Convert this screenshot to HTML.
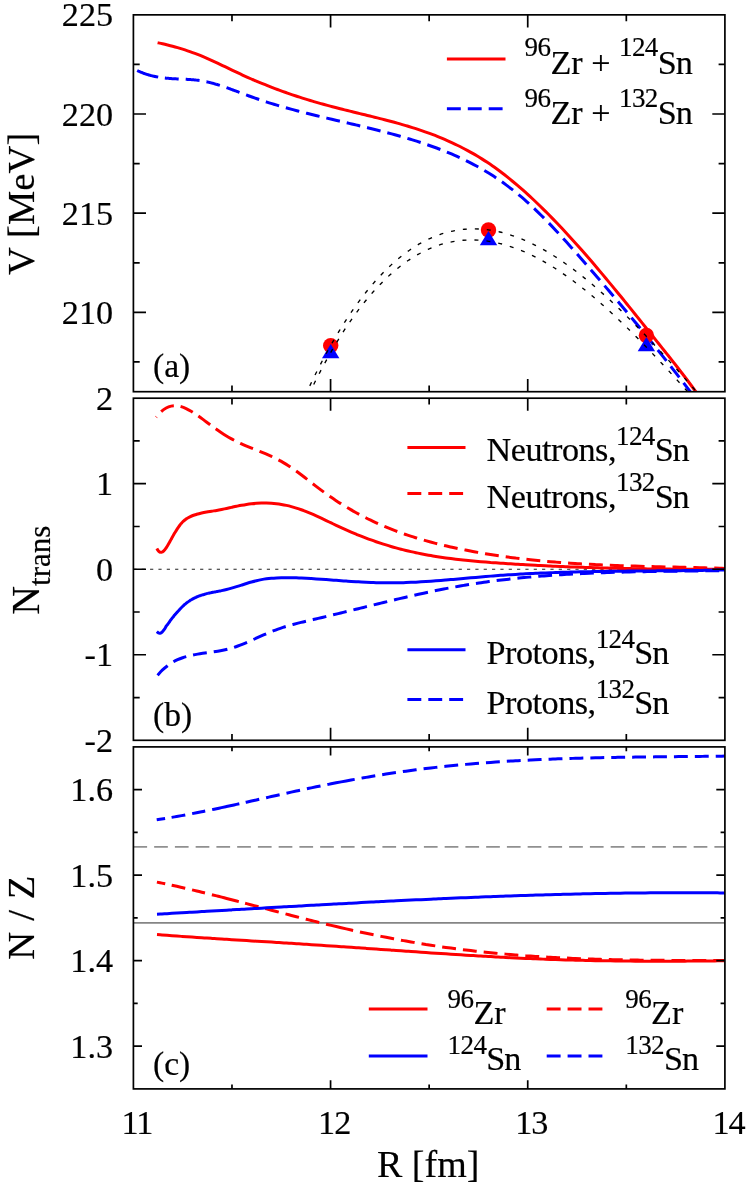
<!DOCTYPE html>
<html><head><meta charset="utf-8"><title>figure</title>
<style>
html,body{margin:0;padding:0;background:#fff;}
svg{display:block;}
text{font-family:"Liberation Serif",serif;fill:#000;stroke:#000;stroke-width:0.18;}
svg{will-change:transform;}
.t{font-size:34.2px;}
.s{font-size:27px;letter-spacing:-0.6px;}
.sn{letter-spacing:-1.1px;}
.w{letter-spacing:-0.5px;}
.l{font-size:38px;}
.ls{font-size:30.4px;}
.c{fill:none;stroke-width:3;stroke-linecap:butt;stroke-linejoin:round;}
.r{stroke:#ff0000;}.b{stroke:#0000ff;}
.d{stroke-dasharray:13.9 7;}
.fr{fill:none;stroke:#000;stroke-width:1.7;}
.tk{stroke:#000;stroke-width:1.7;fill:none;}
.dot{fill:none;stroke:#000;stroke-width:1.35;stroke-dasharray:4 8;}
</style></head><body>
<svg width="747" height="1185" viewBox="0 0 747 1185">
<rect x="0" y="0" width="747" height="1185" fill="#fff"/>
<defs>
<clipPath id="ca"><rect x="133.40" y="14.85" width="591.50" height="376.85"/></clipPath>
<clipPath id="cb"><rect x="133.40" y="398.20" width="591.50" height="342.10"/></clipPath>
<clipPath id="cc"><rect x="133.40" y="746.90" width="591.50" height="342.00"/></clipPath>
</defs>
<g clip-path="url(#ca)">
<path class="c r" d="M157.60 42.74 C158.43 42.92 160.93 43.45 162.59 43.83 C164.26 44.20 165.92 44.60 167.59 45.01 C169.25 45.42 170.92 45.84 172.58 46.29 C174.25 46.73 175.91 47.19 177.58 47.68 C179.24 48.16 180.91 48.66 182.57 49.18 C184.24 49.70 185.90 50.24 187.57 50.80 C189.23 51.36 190.90 51.95 192.56 52.55 C194.23 53.15 195.89 53.78 197.56 54.43 C199.22 55.08 200.89 55.75 202.55 56.45 C204.22 57.14 205.88 57.86 207.54 58.59 C209.21 59.32 210.87 60.07 212.54 60.83 C214.20 61.59 215.87 62.37 217.53 63.15 C219.20 63.93 220.86 64.73 222.53 65.52 C224.19 66.32 225.86 67.12 227.52 67.92 C229.19 68.72 230.85 69.52 232.52 70.32 C234.18 71.12 235.85 71.92 237.51 72.70 C239.18 73.49 240.84 74.27 242.51 75.03 C244.17 75.80 245.84 76.56 247.50 77.30 C249.17 78.04 250.83 78.78 252.50 79.50 C254.16 80.22 255.83 80.93 257.49 81.63 C259.15 82.33 260.82 83.02 262.48 83.69 C264.15 84.37 265.81 85.04 267.48 85.69 C269.14 86.35 270.81 87.00 272.47 87.63 C274.14 88.27 275.80 88.89 277.47 89.51 C279.13 90.13 280.80 90.73 282.46 91.33 C284.13 91.93 285.79 92.52 287.46 93.10 C289.12 93.67 290.79 94.24 292.45 94.80 C294.12 95.37 295.78 95.92 297.45 96.46 C299.11 97.00 300.78 97.54 302.44 98.07 C304.11 98.59 305.77 99.11 307.43 99.62 C309.10 100.13 310.76 100.63 312.43 101.13 C314.09 101.63 315.76 102.11 317.42 102.59 C319.09 103.07 320.75 103.55 322.42 104.01 C324.08 104.48 325.75 104.94 327.41 105.39 C329.08 105.84 330.74 106.28 332.41 106.72 C334.07 107.16 335.74 107.59 337.40 108.02 C339.07 108.45 340.73 108.87 342.40 109.29 C344.06 109.71 345.73 110.13 347.39 110.54 C349.06 110.95 350.72 111.36 352.39 111.77 C354.05 112.18 355.71 112.58 357.38 112.99 C359.04 113.40 360.71 113.80 362.37 114.21 C364.04 114.61 365.70 115.02 367.37 115.42 C369.03 115.83 370.70 116.24 372.36 116.65 C374.03 117.06 375.69 117.48 377.36 117.90 C379.02 118.31 380.69 118.74 382.35 119.16 C384.02 119.59 385.68 120.02 387.35 120.46 C389.01 120.89 390.68 121.34 392.34 121.79 C394.01 122.24 395.67 122.69 397.34 123.16 C399.00 123.62 400.67 124.09 402.33 124.58 C404.00 125.06 405.66 125.55 407.32 126.05 C408.99 126.55 410.65 127.06 412.32 127.59 C413.98 128.11 415.65 128.64 417.31 129.19 C418.98 129.74 420.64 130.29 422.31 130.87 C423.97 131.44 425.64 132.02 427.30 132.62 C428.97 133.22 430.63 133.84 432.30 134.47 C433.96 135.10 435.63 135.74 437.29 136.41 C438.96 137.07 440.62 137.75 442.29 138.45 C443.95 139.14 445.62 139.86 447.28 140.59 C448.95 141.32 450.61 142.08 452.28 142.85 C453.94 143.62 455.60 144.41 457.27 145.23 C458.93 146.04 460.60 146.87 462.26 147.73 C463.93 148.59 465.59 149.47 467.26 150.37 C468.92 151.27 470.59 152.19 472.25 153.14 C473.92 154.09 475.58 155.07 477.25 156.07 C478.91 157.06 480.58 158.09 482.24 159.14 C483.91 160.19 485.57 161.27 487.24 162.37 C488.90 163.48 490.57 164.61 492.23 165.77 C493.90 166.93 495.56 168.12 497.23 169.33 C498.89 170.55 500.56 171.79 502.22 173.06 C503.89 174.32 505.55 175.62 507.21 176.94 C508.88 178.26 510.54 179.60 512.21 180.97 C513.87 182.34 515.54 183.73 517.20 185.15 C518.87 186.57 520.53 188.01 522.20 189.47 C523.86 190.93 525.53 192.42 527.19 193.93 C528.86 195.44 530.52 196.97 532.19 198.52 C533.85 200.07 535.52 201.64 537.18 203.24 C538.85 204.83 540.51 206.44 542.18 208.08 C543.84 209.71 545.51 211.36 547.17 213.03 C548.84 214.70 550.50 216.39 552.17 218.10 C553.83 219.81 555.49 221.53 557.16 223.28 C558.82 225.02 560.49 226.78 562.15 228.55 C563.82 230.33 565.48 232.12 567.15 233.93 C568.81 235.74 570.48 237.56 572.14 239.40 C573.81 241.23 575.47 243.08 577.14 244.95 C578.80 246.82 580.47 248.70 582.13 250.59 C583.80 252.48 585.46 254.38 587.13 256.30 C588.79 258.22 590.46 260.15 592.12 262.09 C593.79 264.03 595.45 265.98 597.12 267.94 C598.78 269.91 600.45 271.88 602.11 273.86 C603.77 275.84 605.44 277.84 607.10 279.84 C608.77 281.84 610.43 283.85 612.10 285.86 C613.76 287.88 615.43 289.90 617.09 291.94 C618.76 293.97 620.42 296.01 622.09 298.05 C623.75 300.10 625.42 302.15 627.08 304.20 C628.75 306.26 630.41 308.32 632.08 310.39 C633.74 312.45 635.41 314.52 637.07 316.59 C638.74 318.67 640.40 320.74 642.07 322.82 C643.73 324.90 645.40 326.99 647.06 329.07 C648.73 331.15 650.39 333.24 652.06 335.32 C653.72 337.41 655.38 339.50 657.05 341.58 C658.71 343.67 660.38 345.76 662.04 347.84 C663.71 349.93 665.37 352.02 667.04 354.11 C668.70 356.21 670.37 358.30 672.03 360.41 C673.70 362.52 675.36 364.64 677.03 366.77 C678.69 368.91 680.36 371.05 682.02 373.22 C683.69 375.39 685.35 377.57 687.02 379.78 C688.68 381.99 690.35 384.22 692.01 386.48 C693.68 388.74 695.34 391.03 697.01 393.35 C698.67 395.67 701.17 399.23 702.00 400.41"/>
<path class="c b" stroke-dasharray="22 6.8 13.9 7 13.9 7 13.9 7 13.9 7 13.9 7 13.9 7 13.9 7 13.9 7 13.9 7 13.9 7 13.9 7 13.9 7 13.9 7 13.9 7 13.9 7 13.9 7 13.9 7 13.9 7 13.9 7 13.9 7 13.9 7 13.9 7 13.9 7 13.9 7 13.9 7 13.9 7 13.9 7 13.9 7 13.9 7 13.9 7 13.9 7 13.9 7 13.9 7 13.9 7 13.9 7 13.9 7 13.9 7 13.9 7 13.9 7 13.9 7 13.9 7 13.9 7 13.9 7 13.9 7 13.9 7 13.9 7 13.9 7 13.9 7 13.9 7 13.9 7 13.9 7 13.9 7 13.9 7 13.9 7 13.9 7 13.9 7 13.9 7 13.9 7 13.9 7 13.9 7" d="M137.20 70.51 C137.37 70.59 137.87 70.83 138.20 70.99 C138.53 71.15 138.87 71.30 139.20 71.45 C139.53 71.60 139.87 71.74 140.20 71.89 C140.53 72.03 140.87 72.17 141.20 72.31 C141.53 72.44 142.02 72.64 142.19 72.71 C142.36 72.77 142.03 72.65 142.20 72.71 C142.37 72.78 142.87 72.97 143.20 73.10 C143.53 73.22 143.87 73.35 144.20 73.47 C144.53 73.59 144.87 73.70 145.20 73.82 C145.53 73.93 145.87 74.05 146.20 74.16 C146.53 74.26 147.01 74.42 147.18 74.47 C147.35 74.52 147.03 74.42 147.20 74.48 C147.37 74.53 147.87 74.68 148.20 74.78 C148.53 74.88 148.87 74.98 149.20 75.07 C149.53 75.17 149.87 75.26 150.20 75.35 C150.53 75.44 150.87 75.53 151.20 75.61 C151.53 75.70 152.00 75.81 152.17 75.85 C152.33 75.90 152.03 75.82 152.20 75.86 C152.37 75.90 152.87 76.02 153.20 76.10 C153.53 76.17 153.87 76.25 154.20 76.32 C154.53 76.39 154.87 76.46 155.20 76.53 C155.53 76.60 155.87 76.67 156.20 76.73 C156.53 76.79 156.99 76.88 157.16 76.91 C157.32 76.94 157.03 76.89 157.20 76.92 C157.37 76.95 157.87 77.04 158.20 77.10 C158.53 77.15 158.87 77.21 159.20 77.26 C159.53 77.32 159.87 77.37 160.20 77.42 C160.53 77.47 160.88 77.52 161.20 77.56 C161.52 77.61 161.98 77.67 162.15 77.69 C162.31 77.72 162.02 77.68 162.20 77.70 C162.38 77.72 162.87 77.79 163.20 77.83 C163.53 77.87 163.87 77.91 164.20 77.95 C164.53 77.99 164.87 78.02 165.20 78.06 C165.53 78.10 165.88 78.13 166.20 78.16 C166.52 78.20 166.97 78.24 167.14 78.25 C167.30 78.27 167.02 78.24 167.20 78.26 C167.38 78.28 167.87 78.32 168.20 78.35 C168.53 78.38 168.87 78.41 169.20 78.43 C169.53 78.46 169.87 78.49 170.20 78.51 C170.53 78.54 170.88 78.56 171.20 78.58 C171.52 78.61 171.96 78.63 172.12 78.64 C172.29 78.66 172.02 78.64 172.20 78.65 C172.38 78.66 172.87 78.69 173.20 78.71 C173.53 78.73 173.87 78.75 174.20 78.77 C174.53 78.79 174.87 78.81 175.20 78.82 C175.53 78.84 175.88 78.86 176.20 78.87 C176.52 78.89 176.95 78.91 177.11 78.92 C177.28 78.93 177.02 78.91 177.20 78.92 C177.38 78.93 177.87 78.95 178.20 78.97 C178.53 78.98 178.87 79.00 179.20 79.01 C179.53 79.03 179.87 79.04 180.20 79.06 C180.53 79.07 180.88 79.08 181.20 79.10 C181.52 79.11 181.94 79.13 182.10 79.14 C182.27 79.14 182.02 79.13 182.20 79.14 C182.38 79.15 182.87 79.17 183.20 79.19 C183.53 79.20 183.87 79.22 184.20 79.23 C184.53 79.25 184.87 79.26 185.20 79.28 C185.53 79.29 185.88 79.31 186.20 79.33 C186.52 79.34 186.93 79.37 187.09 79.37 C187.26 79.38 187.02 79.37 187.20 79.38 C187.38 79.39 187.87 79.42 188.20 79.44 C188.53 79.46 188.87 79.48 189.20 79.50 C189.53 79.52 189.87 79.54 190.20 79.56 C190.53 79.59 190.89 79.61 191.20 79.63 C191.51 79.66 191.92 79.69 192.08 79.70 C192.25 79.71 192.01 79.70 192.20 79.71 C192.39 79.73 192.87 79.76 193.20 79.79 C193.53 79.82 193.87 79.85 194.20 79.88 C194.53 79.91 194.87 79.95 195.20 79.98 C195.53 80.01 195.89 80.05 196.20 80.09 C196.51 80.12 196.90 80.17 197.07 80.19 C197.24 80.21 197.01 80.18 197.20 80.20 C197.39 80.22 197.87 80.28 198.20 80.33 C198.53 80.37 198.87 80.41 199.20 80.46 C199.53 80.50 199.87 80.55 200.20 80.60 C200.53 80.65 200.89 80.71 201.20 80.76 C201.51 80.81 201.89 80.87 202.06 80.90 C202.23 80.93 202.01 80.89 202.20 80.92 C202.39 80.96 202.87 81.04 203.20 81.10 C203.53 81.16 203.87 81.22 204.20 81.29 C204.53 81.35 204.87 81.42 205.20 81.49 C205.53 81.55 205.89 81.63 206.20 81.69 C206.51 81.76 206.88 81.84 207.05 81.88 C207.22 81.91 207.01 81.87 207.20 81.91 C207.39 81.95 207.87 82.06 208.20 82.14 C208.53 82.22 208.87 82.29 209.20 82.37 C209.53 82.45 209.87 82.54 210.20 82.62 C210.53 82.70 210.89 82.79 211.20 82.87 C211.51 82.95 211.87 83.05 212.04 83.09 C212.21 83.14 212.01 83.08 212.20 83.13 C212.39 83.19 212.87 83.31 213.20 83.40 C213.53 83.50 213.87 83.59 214.20 83.68 C214.53 83.78 214.87 83.87 215.20 83.97 C215.53 84.06 215.90 84.17 216.20 84.26 C216.50 84.35 216.86 84.46 217.03 84.51 C217.20 84.56 217.00 84.50 217.20 84.56 C217.40 84.62 217.87 84.76 218.20 84.86 C218.53 84.97 218.87 85.07 219.20 85.17 C219.53 85.28 219.87 85.38 220.20 85.49 C220.53 85.60 220.90 85.72 221.20 85.81 C221.50 85.91 221.85 86.03 222.02 86.08 C222.18 86.14 222.00 86.08 222.20 86.14 C222.40 86.21 222.87 86.37 223.20 86.48 C223.53 86.59 223.87 86.70 224.20 86.82 C224.53 86.93 224.87 87.04 225.20 87.16 C225.53 87.27 225.90 87.40 226.20 87.51 C226.50 87.61 226.84 87.73 227.01 87.79 C227.17 87.85 227.00 87.79 227.20 87.86 C227.40 87.93 227.87 88.09 228.20 88.21 C228.53 88.33 228.87 88.45 229.20 88.57 C229.53 88.69 229.87 88.81 230.20 88.93 C230.53 89.05 230.90 89.19 231.20 89.30 C231.50 89.41 231.83 89.53 232.00 89.59 C232.16 89.65 232.00 89.59 232.20 89.66 C232.40 89.74 232.87 89.91 233.20 90.03 C233.53 90.16 233.87 90.28 234.20 90.40 C234.53 90.53 234.87 90.65 235.20 90.78 C235.53 90.90 235.90 91.04 236.20 91.15 C236.50 91.26 236.82 91.38 236.99 91.45 C237.15 91.51 237.00 91.45 237.20 91.53 C237.40 91.60 237.87 91.78 238.20 91.90 C238.53 92.03 238.87 92.15 239.20 92.28 C239.53 92.41 239.87 92.53 240.20 92.66 C240.53 92.78 240.90 92.92 241.20 93.03 C241.50 93.15 241.81 93.26 241.97 93.33 C242.14 93.39 242.00 93.33 242.20 93.41 C242.40 93.49 242.87 93.66 243.20 93.79 C243.53 93.91 243.87 94.04 244.20 94.16 C244.53 94.29 244.87 94.41 245.20 94.54 C245.53 94.66 245.91 94.80 246.20 94.91 C246.49 95.02 246.80 95.13 246.96 95.19 C247.13 95.25 246.99 95.20 247.20 95.28 C247.41 95.35 247.87 95.53 248.20 95.65 C248.53 95.77 248.57 95.79 249.20 96.01 C249.83 96.24 250.66 96.55 251.95 97.01 C253.24 97.47 255.28 98.19 256.94 98.76 C258.61 99.33 260.27 99.89 261.93 100.44 C263.60 100.99 265.26 101.53 266.92 102.06 C268.58 102.60 270.25 103.12 271.91 103.63 C273.57 104.14 275.24 104.65 276.90 105.14 C278.56 105.64 280.23 106.12 281.89 106.60 C283.55 107.08 285.22 107.55 286.88 108.02 C288.54 108.48 290.20 108.94 291.87 109.39 C293.53 109.84 295.19 110.28 296.86 110.72 C298.52 111.16 300.18 111.59 301.85 112.02 C303.51 112.45 305.17 112.87 306.84 113.29 C308.50 113.71 310.16 114.12 311.82 114.53 C313.49 114.94 315.15 115.35 316.81 115.75 C318.48 116.15 320.14 116.55 321.80 116.95 C323.47 117.35 325.13 117.74 326.79 118.13 C328.46 118.52 330.12 118.91 331.78 119.30 C333.45 119.69 335.11 120.08 336.77 120.47 C338.43 120.86 340.10 121.24 341.76 121.63 C343.42 122.01 345.09 122.40 346.75 122.79 C348.41 123.18 350.08 123.56 351.74 123.95 C353.40 124.34 355.07 124.73 356.73 125.12 C358.39 125.52 360.05 125.91 361.72 126.31 C363.38 126.70 365.04 127.10 366.71 127.50 C368.37 127.91 370.03 128.31 371.70 128.72 C373.36 129.13 375.02 129.54 376.69 129.96 C378.35 130.38 380.01 130.80 381.67 131.23 C383.34 131.66 385.00 132.09 386.66 132.53 C388.33 132.96 389.99 133.41 391.65 133.86 C393.32 134.31 394.98 134.76 396.64 135.23 C398.31 135.69 399.97 136.16 401.63 136.64 C403.30 137.12 404.96 137.60 406.62 138.10 C408.28 138.59 409.95 139.09 411.61 139.61 C413.27 140.12 414.94 140.64 416.60 141.17 C418.26 141.70 419.93 142.24 421.59 142.79 C423.25 143.34 424.92 143.90 426.58 144.47 C428.24 145.04 429.90 145.62 431.57 146.21 C433.23 146.81 434.89 147.41 436.56 148.03 C438.22 148.65 439.88 149.28 441.55 149.93 C443.21 150.57 444.87 151.23 446.54 151.91 C448.20 152.59 449.86 153.28 451.52 153.99 C453.19 154.70 454.85 155.42 456.51 156.17 C458.18 156.91 459.84 157.67 461.50 158.45 C463.17 159.23 464.83 160.03 466.49 160.85 C468.16 161.68 469.82 162.52 471.48 163.38 C473.15 164.24 474.81 165.13 476.47 166.03 C478.13 166.94 479.80 167.87 481.46 168.83 C483.12 169.78 484.79 170.76 486.45 171.76 C488.11 172.76 489.78 173.79 491.44 174.85 C493.10 175.90 494.77 176.98 496.43 178.09 C498.09 179.20 499.75 180.34 501.42 181.51 C503.08 182.67 504.74 183.87 506.41 185.09 C508.07 186.32 509.73 187.57 511.40 188.86 C513.06 190.14 514.72 191.46 516.39 192.81 C518.05 194.16 519.71 195.54 521.38 196.96 C523.04 198.38 524.70 199.83 526.36 201.31 C528.03 202.79 529.69 204.30 531.35 205.85 C533.02 207.39 534.68 208.96 536.34 210.56 C538.01 212.16 539.67 213.79 541.33 215.44 C543.00 217.10 544.66 218.77 546.32 220.47 C547.98 222.17 549.65 223.90 551.31 225.64 C552.97 227.38 554.64 229.15 556.30 230.93 C557.96 232.71 559.63 234.51 561.29 236.32 C562.95 238.14 564.62 239.97 566.28 241.81 C567.94 243.65 569.60 245.51 571.27 247.38 C572.93 249.25 574.59 251.13 576.26 253.02 C577.92 254.90 579.58 256.80 581.25 258.70 C582.91 260.61 584.57 262.52 586.24 264.43 C587.90 266.34 589.56 268.26 591.22 270.18 C592.89 272.10 594.55 274.03 596.21 275.96 C597.88 277.89 599.54 279.83 601.20 281.77 C602.87 283.71 604.53 285.65 606.19 287.60 C607.86 289.55 609.52 291.50 611.18 293.46 C612.85 295.42 614.51 297.39 616.17 299.36 C617.83 301.33 619.50 303.31 621.16 305.29 C622.82 307.27 624.49 309.26 626.15 311.26 C627.81 313.25 629.48 315.25 631.14 317.26 C632.80 319.26 634.47 321.28 636.13 323.30 C637.79 325.32 639.45 327.34 641.12 329.38 C642.78 331.41 644.44 333.45 646.11 335.50 C647.77 337.55 649.43 339.60 651.10 341.67 C652.76 343.73 654.42 345.80 656.09 347.88 C657.75 349.95 659.41 352.04 661.08 354.13 C662.74 356.23 664.40 358.33 666.06 360.44 C667.73 362.55 669.39 364.66 671.05 366.79 C672.72 368.92 674.38 371.05 676.04 373.20 C677.71 375.34 679.37 377.49 681.03 379.66 C682.70 381.82 684.36 383.99 686.02 386.17 C687.68 388.35 689.35 390.54 691.01 392.74 C692.67 394.94 695.17 398.26 696.00 399.37"/>
</g>
<circle cx="330.70" cy="345.60" r="7.7" fill="#ff0000"/>
<circle cx="488.50" cy="230.00" r="7.7" fill="#ff0000"/>
<circle cx="646.40" cy="335.45" r="7.7" fill="#ff0000"/>
<path d="M330.70 344.00L322.00 358.30L339.40 358.30Z" fill="#0000ff"/>
<path d="M488.50 231.00L479.80 245.30L497.20 245.30Z" fill="#0000ff"/>
<path d="M646.40 336.90L637.70 351.20L655.10 351.20Z" fill="#0000ff"/>
<g clip-path="url(#ca)">
<path class="dot" d="M304.70 396.73 C305.53 394.95 308.04 389.53 309.70 386.03 C311.37 382.53 313.04 379.10 314.71 375.73 C316.38 372.36 318.04 369.07 319.71 365.83 C321.38 362.60 323.05 359.43 324.72 356.33 C326.38 353.22 328.05 350.18 329.72 347.21 C331.39 344.23 333.05 341.32 334.72 338.47 C336.39 335.62 338.06 332.84 339.73 330.12 C341.39 327.39 343.06 324.73 344.73 322.13 C346.40 319.53 348.07 316.99 349.73 314.52 C351.40 312.04 353.07 309.62 354.74 307.26 C356.41 304.90 358.07 302.61 359.74 300.37 C361.41 298.13 363.08 295.95 364.75 293.82 C366.41 291.70 368.08 289.64 369.75 287.63 C371.42 285.62 373.09 283.67 374.75 281.78 C376.42 279.88 378.09 278.04 379.76 276.26 C381.42 274.48 383.09 272.75 384.76 271.08 C386.43 269.40 388.10 267.79 389.76 266.22 C391.43 264.66 393.10 263.15 394.77 261.69 C396.44 260.23 398.10 258.83 399.77 257.47 C401.44 256.12 403.11 254.82 404.78 253.57 C406.44 252.32 408.11 251.12 409.78 249.97 C411.45 248.82 413.12 247.73 414.78 246.68 C416.45 245.63 418.12 244.63 419.79 243.68 C421.46 242.73 423.12 241.83 424.79 240.97 C426.46 240.12 428.13 239.32 429.79 238.56 C431.46 237.80 433.13 237.08 434.80 236.42 C436.47 235.75 438.13 235.13 439.80 234.56 C441.47 233.98 443.14 233.45 444.81 232.97 C446.47 232.48 448.14 232.04 449.81 231.65 C451.48 231.25 453.15 230.90 454.81 230.59 C456.48 230.27 458.15 230.01 459.82 229.78 C461.49 229.55 463.15 229.37 464.82 229.23 C466.49 229.08 468.16 228.98 469.83 228.92 C471.49 228.86 473.16 228.84 474.83 228.86 C476.50 228.87 478.16 228.93 479.83 229.03 C481.50 229.12 483.17 229.26 484.84 229.43 C486.50 229.60 488.17 229.81 489.84 230.06 C491.51 230.30 493.18 230.58 494.84 230.90 C496.51 231.22 498.18 231.58 499.85 231.97 C501.52 232.36 503.18 232.78 504.85 233.24 C506.52 233.70 508.19 234.20 509.86 234.72 C511.52 235.25 513.19 235.81 514.86 236.41 C516.53 237.00 518.20 237.63 519.86 238.28 C521.53 238.94 523.20 239.63 524.87 240.35 C526.54 241.07 528.20 241.83 529.87 242.61 C531.54 243.39 533.21 244.21 534.87 245.05 C536.54 245.89 538.21 246.76 539.88 247.66 C541.55 248.56 543.21 249.49 544.88 250.45 C546.55 251.40 548.22 252.39 549.89 253.40 C551.55 254.41 553.22 255.45 554.89 256.52 C556.56 257.58 558.23 258.67 559.89 259.79 C561.56 260.91 563.23 262.05 564.90 263.21 C566.57 264.38 568.23 265.57 569.90 266.79 C571.57 268.00 573.24 269.24 574.91 270.50 C576.57 271.77 578.24 273.05 579.91 274.36 C581.58 275.67 583.24 277.00 584.91 278.35 C586.58 279.70 588.25 281.07 589.92 282.46 C591.58 283.85 593.25 285.27 594.92 286.70 C596.59 288.13 598.26 289.59 599.92 291.06 C601.59 292.53 603.26 294.02 604.93 295.53 C606.60 297.04 608.26 298.57 609.93 300.11 C611.60 301.66 613.27 303.22 614.94 304.80 C616.60 306.38 618.27 307.97 619.94 309.58 C621.61 311.19 623.28 312.82 624.94 314.46 C626.61 316.10 628.28 317.76 629.95 319.43 C631.61 321.10 633.28 322.79 634.95 324.49 C636.62 326.18 638.29 327.90 639.95 329.62 C641.62 331.34 643.29 333.08 644.96 334.83 C646.63 336.58 648.29 338.34 649.96 340.11 C651.63 341.88 653.30 343.66 654.97 345.46 C656.63 347.25 658.30 349.05 659.97 350.86 C661.64 352.67 663.31 354.49 664.97 356.32 C666.64 358.15 668.31 359.99 669.98 361.84 C671.65 363.68 673.31 365.54 674.98 367.40 C676.65 369.26 678.32 371.12 679.98 373.00 C681.65 374.87 683.32 376.75 684.99 378.63 C686.66 380.52 688.32 382.41 689.99 384.30 C691.66 386.20 693.33 388.10 695.00 390.00 C696.66 391.90 699.17 394.76 700.00 395.72"/>
<path class="dot" d="M308.50 395.24 C309.33 393.52 311.82 388.31 313.48 384.95 C315.14 381.59 316.80 378.30 318.46 375.08 C320.12 371.85 321.78 368.69 323.44 365.60 C325.10 362.51 326.76 359.49 328.42 356.53 C330.08 353.57 331.74 350.68 333.40 347.85 C335.06 345.02 336.72 342.26 338.38 339.56 C340.04 336.86 341.70 334.22 343.36 331.65 C345.02 329.07 346.68 326.56 348.34 324.11 C350.00 321.65 351.66 319.26 353.32 316.93 C354.98 314.60 356.65 312.34 358.31 310.12 C359.97 307.91 361.63 305.76 363.29 303.67 C364.95 301.57 366.61 299.54 368.27 297.56 C369.93 295.58 371.59 293.66 373.25 291.80 C374.91 289.93 376.57 288.12 378.23 286.37 C379.89 284.62 381.55 282.92 383.21 281.27 C384.87 279.63 386.53 278.04 388.19 276.50 C389.85 274.96 391.51 273.48 393.17 272.05 C394.83 270.62 396.49 269.24 398.15 267.91 C399.81 266.58 401.47 265.30 403.13 264.08 C404.79 262.85 406.45 261.68 408.11 260.55 C409.77 259.43 411.43 258.35 413.09 257.32 C414.75 256.30 416.41 255.32 418.07 254.39 C419.73 253.46 421.39 252.58 423.05 251.74 C424.71 250.90 426.37 250.12 428.03 249.38 C429.69 248.63 431.35 247.94 433.01 247.29 C434.67 246.64 436.33 246.03 437.99 245.47 C439.65 244.91 441.31 244.39 442.97 243.92 C444.63 243.45 446.29 243.02 447.95 242.63 C449.61 242.25 451.27 241.90 452.94 241.60 C454.60 241.30 456.26 241.04 457.92 240.82 C459.58 240.60 461.24 240.42 462.90 240.28 C464.56 240.14 466.22 240.05 467.88 239.99 C469.54 239.93 471.20 239.91 472.86 239.93 C474.52 239.94 476.18 240.00 477.84 240.10 C479.50 240.19 481.16 240.32 482.82 240.49 C484.48 240.66 486.14 240.86 487.80 241.10 C489.46 241.34 491.12 241.62 492.78 241.93 C494.44 242.24 496.10 242.58 497.76 242.96 C499.42 243.34 501.08 243.75 502.74 244.20 C504.40 244.64 506.06 245.12 507.72 245.64 C509.38 246.15 511.04 246.69 512.70 247.27 C514.36 247.85 516.02 248.45 517.68 249.09 C519.34 249.73 521.00 250.40 522.66 251.10 C524.32 251.80 525.98 252.53 527.64 253.29 C529.30 254.05 530.96 254.84 532.62 255.66 C534.28 256.47 535.94 257.32 537.60 258.19 C539.26 259.07 540.92 259.97 542.58 260.90 C544.24 261.83 545.90 262.78 547.56 263.76 C549.23 264.75 550.89 265.75 552.55 266.79 C554.21 267.82 555.87 268.88 557.53 269.97 C559.19 271.05 560.85 272.16 562.51 273.29 C564.17 274.42 565.83 275.58 567.49 276.76 C569.15 277.94 570.81 279.14 572.47 280.37 C574.13 281.59 575.79 282.84 577.45 284.11 C579.11 285.38 580.77 286.67 582.43 287.98 C584.09 289.29 585.75 290.63 587.41 291.98 C589.07 293.33 590.73 294.70 592.39 296.10 C594.05 297.49 595.71 298.90 597.37 300.33 C599.03 301.76 600.69 303.21 602.35 304.67 C604.01 306.14 605.67 307.62 607.33 309.12 C608.99 310.62 610.65 312.14 612.31 313.67 C613.97 315.21 615.63 316.76 617.29 318.32 C618.95 319.89 620.61 321.47 622.27 323.07 C623.93 324.66 625.59 326.27 627.25 327.89 C628.91 329.52 630.57 331.16 632.23 332.81 C633.89 334.46 635.55 336.12 637.21 337.80 C638.87 339.47 640.53 341.16 642.19 342.86 C643.85 344.56 645.52 346.28 647.18 348.00 C648.84 349.72 650.50 351.45 652.16 353.20 C653.82 354.94 655.48 356.69 657.14 358.45 C658.80 360.22 660.46 361.99 662.12 363.77 C663.78 365.55 665.44 367.34 667.10 369.13 C668.76 370.93 670.42 372.73 672.08 374.54 C673.74 376.35 675.40 378.17 677.06 379.99 C678.72 381.82 680.38 383.65 682.04 385.48 C683.70 387.32 685.36 389.16 687.02 391.00 C688.68 392.85 691.17 395.62 692.00 396.55"/>
</g>
<path class="tk" d="M231.98 14.85v6.30M231.98 391.70v-6.30M330.57 14.85v12.60M330.57 391.70v-12.60M429.15 14.85v6.30M429.15 391.70v-6.30M527.73 14.85v12.60M527.73 391.70v-12.60M626.32 14.85v6.30M626.32 391.70v-6.30M133.40 114.02h12.60M724.90 114.02h-12.60M133.40 213.19h12.60M724.90 213.19h-12.60M133.40 312.36h12.60M724.90 312.36h-12.60M133.40 64.44h6.30M724.90 64.44h-6.30M133.40 163.61h6.30M724.90 163.61h-6.30M133.40 262.78h6.30M724.90 262.78h-6.30M133.40 361.95h6.30M724.90 361.95h-6.30"/>
<rect class="fr" x="133.40" y="14.85" width="591.50" height="376.85"/>
<text class="t" x="113.1" y="26.45" text-anchor="end">225</text>
<text class="t" x="113.1" y="125.62" text-anchor="end">220</text>
<text class="t" x="113.1" y="224.79" text-anchor="end">215</text>
<text class="t" x="113.1" y="323.96" text-anchor="end">210</text>
<path class="c r" d="M446.9 58.9H505.5"/>
<path class="c b d" d="M446.9 108.7H503.5"/>
<text x="524.60" y="73.60" class="t" text-anchor="start"><tspan class="s" dy="-17.2">96</tspan><tspan dy="17.2">Zr + </tspan><tspan class="s" dy="-17.2">124</tspan><tspan dy="17.2" class="sn">Sn</tspan></text>
<text x="524.60" y="123.70" class="t" text-anchor="start"><tspan class="s" dy="-17.2">96</tspan><tspan dy="17.2">Zr + </tspan><tspan class="s" dy="-17.2">132</tspan><tspan dy="17.2" class="sn">Sn</tspan></text>
<text class="t" style="font-size:33.6px" x="153.0" y="377.1">(a)</text>
<text class="l" style="font-size:38.7px" transform="translate(33.9 203.8) rotate(-90)" text-anchor="middle">V [MeV]</text>
<path d="M133.40 569.25H724.90" stroke="#222" stroke-width="1.2" stroke-dasharray="3.2 5.14" fill="none"/>
<g clip-path="url(#cb)">
<path class="c r" d="M156.80 548.39 C156.97 548.68 157.47 549.65 157.80 550.14 C158.13 550.63 158.47 551.03 158.80 551.34 C159.13 551.66 159.47 551.89 159.80 552.05 C160.13 552.21 160.47 552.28 160.80 552.30 C161.13 552.32 161.62 552.18 161.78 552.16 C161.95 552.13 161.63 552.24 161.80 552.15 C161.97 552.07 162.47 551.86 162.80 551.64 C163.13 551.42 163.47 551.14 163.80 550.82 C164.13 550.49 164.47 550.12 164.80 549.72 C165.13 549.31 165.47 548.85 165.80 548.39 C166.13 547.93 166.60 547.18 166.77 546.93 C166.93 546.68 166.63 547.16 166.80 546.88 C166.97 546.59 167.47 545.79 167.80 545.23 C168.13 544.66 168.47 544.07 168.80 543.48 C169.13 542.88 169.47 542.28 169.80 541.67 C170.13 541.07 170.48 540.45 170.80 539.86 C171.12 539.27 171.58 538.45 171.75 538.15 C171.92 537.85 171.62 538.37 171.80 538.06 C171.98 537.75 172.47 536.87 172.80 536.28 C173.13 535.69 173.47 535.11 173.80 534.53 C174.13 533.96 174.47 533.39 174.80 532.83 C175.13 532.27 175.48 531.70 175.80 531.18 C176.12 530.65 176.57 529.95 176.73 529.69 C176.90 529.42 176.62 529.86 176.80 529.58 C176.98 529.31 177.47 528.56 177.80 528.06 C178.13 527.57 178.47 527.09 178.80 526.62 C179.13 526.16 179.47 525.70 179.80 525.27 C180.13 524.83 180.48 524.40 180.80 524.02 C181.12 523.63 181.55 523.15 181.72 522.96 C181.88 522.77 181.62 523.06 181.80 522.87 C181.98 522.68 182.47 522.16 182.80 521.82 C183.13 521.49 183.47 521.18 183.80 520.88 C184.13 520.58 184.47 520.29 184.80 520.02 C185.13 519.75 185.48 519.48 185.80 519.24 C186.12 519.01 185.72 519.15 186.70 518.61 C187.68 518.07 190.02 516.72 191.68 516.00 C193.34 515.29 195.01 514.81 196.67 514.31 C198.33 513.82 199.99 513.42 201.65 513.05 C203.31 512.67 204.97 512.36 206.63 512.06 C208.29 511.76 209.96 511.50 211.62 511.22 C213.28 510.94 214.94 510.69 216.60 510.40 C218.26 510.11 219.92 509.80 221.58 509.48 C223.24 509.15 224.91 508.79 226.57 508.44 C228.23 508.09 229.89 507.71 231.55 507.35 C233.21 506.99 234.87 506.62 236.53 506.28 C238.19 505.94 239.86 505.59 241.52 505.29 C243.18 504.98 244.84 504.69 246.50 504.44 C248.16 504.19 249.82 503.97 251.48 503.79 C253.14 503.60 254.81 503.45 256.47 503.34 C258.13 503.22 259.79 503.14 261.45 503.10 C263.11 503.06 264.77 503.05 266.43 503.08 C268.09 503.11 269.76 503.18 271.42 503.29 C273.08 503.40 274.74 503.55 276.40 503.74 C278.06 503.93 279.72 504.16 281.38 504.44 C283.04 504.71 284.71 505.02 286.37 505.39 C288.03 505.75 289.69 506.15 291.35 506.60 C293.01 507.05 294.67 507.54 296.33 508.07 C297.99 508.60 299.66 509.17 301.32 509.78 C302.98 510.38 304.64 511.02 306.30 511.68 C307.96 512.34 309.62 513.03 311.28 513.74 C312.94 514.45 314.61 515.19 316.27 515.94 C317.93 516.69 319.59 517.46 321.25 518.23 C322.91 519.00 324.57 519.79 326.23 520.58 C327.89 521.37 329.56 522.17 331.22 522.97 C332.88 523.76 334.54 524.56 336.20 525.34 C337.86 526.13 339.52 526.91 341.18 527.68 C342.84 528.45 344.51 529.21 346.17 529.95 C347.83 530.69 349.49 531.42 351.15 532.13 C352.81 532.84 354.47 533.53 356.13 534.22 C357.79 534.90 359.46 535.56 361.12 536.22 C362.78 536.87 364.44 537.51 366.10 538.13 C367.76 538.76 369.42 539.37 371.08 539.96 C372.74 540.56 374.41 541.14 376.07 541.71 C377.73 542.27 379.39 542.83 381.05 543.37 C382.71 543.91 384.37 544.43 386.03 544.94 C387.69 545.46 389.36 545.96 391.02 546.44 C392.68 546.93 394.34 547.40 396.00 547.85 C397.66 548.31 399.32 548.76 400.98 549.19 C402.64 549.62 404.31 550.04 405.97 550.44 C407.63 550.85 409.29 551.24 410.95 551.62 C412.61 552.00 414.27 552.37 415.93 552.72 C417.59 553.07 419.26 553.42 420.92 553.75 C422.58 554.08 424.24 554.39 425.90 554.70 C427.56 555.01 429.22 555.31 430.88 555.59 C432.54 555.88 434.21 556.15 435.87 556.42 C437.53 556.69 439.19 556.94 440.85 557.19 C442.51 557.44 444.17 557.67 445.83 557.90 C447.49 558.13 449.16 558.35 450.82 558.57 C452.48 558.78 454.14 558.98 455.80 559.18 C457.46 559.38 459.12 559.57 460.78 559.75 C462.44 559.94 464.11 560.11 465.77 560.28 C467.43 560.45 469.09 560.62 470.75 560.78 C472.41 560.94 474.07 561.09 475.73 561.24 C477.39 561.39 479.06 561.53 480.72 561.67 C482.38 561.81 484.04 561.94 485.70 562.07 C487.36 562.20 489.02 562.33 490.68 562.46 C492.34 562.58 494.01 562.70 495.67 562.82 C497.33 562.94 498.99 563.06 500.65 563.17 C502.31 563.28 503.97 563.40 505.63 563.51 C507.29 563.62 508.96 563.73 510.62 563.83 C512.28 563.94 513.94 564.04 515.60 564.15 C517.26 564.25 518.92 564.35 520.58 564.45 C522.24 564.55 523.91 564.65 525.57 564.74 C527.23 564.84 528.89 564.93 530.55 565.02 C532.21 565.12 533.87 565.21 535.53 565.29 C537.19 565.38 538.86 565.47 540.52 565.55 C542.18 565.64 543.84 565.72 545.50 565.80 C547.16 565.89 548.82 565.96 550.48 566.04 C552.14 566.12 553.81 566.20 555.47 566.27 C557.13 566.35 558.79 566.42 560.45 566.49 C562.11 566.56 563.77 566.63 565.43 566.70 C567.09 566.77 568.76 566.83 570.42 566.90 C572.08 566.96 573.74 567.03 575.40 567.09 C577.06 567.15 578.72 567.21 580.38 567.27 C582.04 567.33 583.71 567.39 585.37 567.44 C587.03 567.50 588.69 567.55 590.35 567.60 C592.01 567.66 593.67 567.71 595.33 567.76 C596.99 567.81 598.66 567.86 600.32 567.90 C601.98 567.95 603.64 568.00 605.30 568.04 C606.96 568.08 608.62 568.13 610.28 568.17 C611.94 568.21 613.61 568.25 615.27 568.29 C616.93 568.33 618.59 568.36 620.25 568.40 C621.91 568.44 623.57 568.47 625.23 568.51 C626.89 568.54 628.56 568.57 630.22 568.60 C631.88 568.63 633.54 568.66 635.20 568.69 C636.86 568.72 638.52 568.75 640.18 568.77 C641.84 568.80 643.51 568.82 645.17 568.85 C646.83 568.87 648.49 568.89 650.15 568.91 C651.81 568.94 653.47 568.96 655.13 568.98 C656.79 568.99 658.46 569.01 660.12 569.03 C661.78 569.05 663.44 569.06 665.10 569.08 C666.76 569.09 668.42 569.11 670.08 569.12 C671.74 569.13 673.41 569.14 675.07 569.15 C676.73 569.16 678.39 569.17 680.05 569.18 C681.71 569.19 683.37 569.20 685.03 569.20 C686.69 569.21 688.36 569.22 690.02 569.22 C691.68 569.23 693.34 569.23 695.00 569.23 C696.66 569.24 698.32 569.24 699.98 569.24 C701.64 569.24 703.31 569.24 704.97 569.24 C706.63 569.24 708.29 569.24 709.95 569.24 C711.61 569.23 713.27 569.23 714.93 569.23 C716.59 569.22 718.26 569.22 719.92 569.21 C721.58 569.21 724.07 569.20 724.90 569.19"/>
<path class="c r" stroke-dasharray="0.6 6.8 14.2 6.8 13.5 6.8 14.7 6.8 21.7 6.8 13.9 7 13.9 7 13.9 7 13.9 7 13.9 7 13.9 7 13.9 7 13.9 7 13.9 7 13.9 7 13.9 7 13.9 7 13.9 7 13.9 7 13.9 7 13.9 7 13.9 7 13.9 7 13.9 7 13.9 7 13.9 7 13.9 7 13.9 7 13.9 7 13.9 7 13.9 7 13.9 7 13.9 7 13.9 7 13.9 7 13.9 7 13.9 7 13.9 7 13.9 7 13.9 7 13.9 7 13.9 7 13.9 7 13.9 7 13.9 7 13.9 7 13.9 7 13.9 7 13.9 7 13.9 7 13.9 7 13.9 7 13.9 7 13.9 7 13.9 7 13.9 7 13.9 7 13.9 7 13.9 7 13.9 7 13.9 7 13.9 7 13.9 7 13.9 7 13.9 7" d="M156.20 417.14 C157.03 416.22 159.53 413.11 161.19 411.59 C162.85 410.06 164.51 408.91 166.18 408.00 C167.84 407.09 169.50 406.52 171.17 406.15 C172.83 405.78 174.49 405.70 176.15 405.78 C177.82 405.87 179.48 406.20 181.14 406.67 C182.81 407.13 184.47 407.80 186.13 408.56 C187.79 409.32 189.46 410.24 191.12 411.22 C192.78 412.20 194.45 413.31 196.11 414.44 C197.77 415.58 199.43 416.80 201.10 418.02 C202.76 419.24 204.42 420.51 206.09 421.75 C207.75 422.98 209.41 424.23 211.07 425.45 C212.74 426.67 214.40 427.89 216.06 429.07 C217.73 430.24 219.39 431.40 221.05 432.52 C222.71 433.63 224.38 434.71 226.04 435.73 C227.70 436.76 229.37 437.74 231.03 438.66 C232.69 439.58 234.35 440.44 236.02 441.27 C237.68 442.10 239.34 442.88 241.01 443.64 C242.67 444.40 244.33 445.11 245.99 445.82 C247.66 446.52 249.32 447.20 250.98 447.87 C252.65 448.55 254.31 449.20 255.97 449.87 C257.63 450.53 259.30 451.19 260.96 451.86 C262.62 452.54 264.29 453.22 265.95 453.93 C267.61 454.64 269.27 455.36 270.94 456.13 C272.60 456.89 274.26 457.68 275.93 458.52 C277.59 459.35 279.25 460.23 280.91 461.16 C282.58 462.10 284.24 463.09 285.90 464.12 C287.57 465.16 289.23 466.26 290.89 467.39 C292.55 468.51 294.22 469.69 295.88 470.89 C297.54 472.09 299.21 473.32 300.87 474.57 C302.53 475.82 304.20 477.09 305.86 478.37 C307.52 479.64 309.18 480.94 310.85 482.22 C312.51 483.51 314.17 484.80 315.84 486.07 C317.50 487.35 319.16 488.62 320.82 489.86 C322.49 491.10 324.15 492.32 325.81 493.51 C327.48 494.71 329.14 495.88 330.80 497.02 C332.46 498.17 334.13 499.29 335.79 500.39 C337.45 501.48 339.12 502.56 340.78 503.61 C342.44 504.66 344.10 505.68 345.77 506.69 C347.43 507.70 349.09 508.68 350.76 509.64 C352.42 510.60 354.08 511.54 355.74 512.46 C357.41 513.38 359.07 514.28 360.73 515.16 C362.40 516.03 364.06 516.89 365.72 517.73 C367.38 518.57 369.05 519.39 370.71 520.19 C372.37 520.99 374.04 521.77 375.70 522.53 C377.36 523.30 379.02 524.04 380.69 524.77 C382.35 525.50 384.01 526.20 385.68 526.90 C387.34 527.59 389.00 528.27 390.66 528.93 C392.33 529.59 393.99 530.23 395.65 530.86 C397.32 531.49 398.98 532.10 400.64 532.70 C402.30 533.30 403.97 533.89 405.63 534.46 C407.29 535.03 408.96 535.58 410.62 536.13 C412.28 536.67 413.94 537.20 415.61 537.71 C417.27 538.23 418.93 538.73 420.60 539.23 C422.26 539.72 423.92 540.20 425.58 540.67 C427.25 541.14 428.91 541.59 430.57 542.04 C432.24 542.49 433.90 542.92 435.56 543.35 C437.22 543.77 438.89 544.19 440.55 544.60 C442.21 545.01 443.88 545.40 445.54 545.79 C447.20 546.18 448.86 546.56 450.53 546.93 C452.19 547.31 453.85 547.67 455.52 548.03 C457.18 548.39 458.84 548.74 460.50 549.08 C462.17 549.42 463.83 549.76 465.49 550.09 C467.16 550.42 468.82 550.74 470.48 551.06 C472.14 551.37 473.81 551.68 475.47 551.98 C477.13 552.28 478.80 552.58 480.46 552.87 C482.12 553.16 483.78 553.44 485.45 553.72 C487.11 553.99 488.77 554.26 490.44 554.53 C492.10 554.79 493.76 555.05 495.42 555.30 C497.09 555.55 498.75 555.80 500.41 556.04 C502.08 556.28 503.74 556.52 505.40 556.74 C507.06 556.97 508.73 557.20 510.39 557.41 C512.05 557.63 513.72 557.84 515.38 558.05 C517.04 558.26 518.70 558.46 520.37 558.66 C522.03 558.85 523.69 559.05 525.36 559.23 C527.02 559.42 528.68 559.60 530.34 559.78 C532.01 559.96 533.67 560.13 535.33 560.29 C537.00 560.46 538.66 560.63 540.32 560.78 C541.98 560.94 543.65 561.10 545.31 561.25 C546.97 561.40 548.64 561.54 550.30 561.68 C551.96 561.82 553.62 561.96 555.29 562.09 C556.95 562.23 558.61 562.36 560.28 562.48 C561.94 562.61 563.60 562.73 565.26 562.85 C566.93 562.96 568.59 563.08 570.25 563.19 C571.92 563.30 573.58 563.41 575.24 563.51 C576.90 563.62 578.57 563.72 580.23 563.82 C581.89 563.91 583.56 564.01 585.22 564.10 C586.88 564.19 588.55 564.28 590.21 564.37 C591.87 564.45 593.53 564.53 595.20 564.61 C596.86 564.70 598.52 564.77 600.19 564.85 C601.85 564.92 603.51 565.00 605.17 565.07 C606.84 565.14 608.50 565.21 610.16 565.27 C611.83 565.34 613.49 565.40 615.15 565.46 C616.81 565.52 618.48 565.58 620.14 565.64 C621.80 565.70 623.47 565.76 625.13 565.81 C626.79 565.87 628.45 565.92 630.12 565.97 C631.78 566.02 633.44 566.07 635.11 566.12 C636.77 566.17 638.43 566.22 640.09 566.26 C641.76 566.31 643.42 566.35 645.08 566.40 C646.75 566.44 648.41 566.49 650.07 566.53 C651.73 566.57 653.40 566.61 655.06 566.65 C656.72 566.69 658.39 566.73 660.05 566.77 C661.71 566.81 663.37 566.85 665.04 566.89 C666.70 566.93 668.36 566.97 670.03 567.00 C671.69 567.04 673.35 567.08 675.01 567.12 C676.68 567.16 678.34 567.19 680.00 567.23 C681.67 567.27 683.33 567.31 684.99 567.35 C686.65 567.39 688.32 567.43 689.98 567.47 C691.64 567.50 693.31 567.54 694.97 567.59 C696.63 567.63 698.29 567.67 699.96 567.71 C701.62 567.75 703.28 567.79 704.95 567.84 C706.61 567.88 708.27 567.93 709.93 567.97 C711.60 568.02 713.26 568.07 714.92 568.12 C716.59 568.16 718.25 568.21 719.91 568.26 C721.57 568.32 724.07 568.40 724.90 568.42"/>
<path class="c b" d="M156.80 631.60 C157.07 631.83 157.87 632.73 158.40 633.00 C158.93 633.27 159.38 633.35 160.00 633.20 C160.62 633.05 161.38 632.73 162.10 632.10 C162.82 631.47 163.58 630.43 164.30 629.40 C165.02 628.37 165.82 626.76 166.40 625.90 C166.98 625.04 167.40 624.76 167.80 624.24 C168.20 623.71 168.47 623.24 168.80 622.75 C169.13 622.26 169.47 621.78 169.80 621.31 C170.13 620.84 170.48 620.37 170.80 619.94 C171.12 619.50 171.58 618.90 171.75 618.68 C171.92 618.46 171.62 618.84 171.80 618.62 C171.98 618.40 172.47 617.76 172.80 617.35 C173.13 616.93 173.47 616.52 173.80 616.12 C174.13 615.72 174.47 615.32 174.80 614.93 C175.13 614.54 175.48 614.14 175.80 613.77 C176.12 613.39 176.57 612.89 176.73 612.70 C176.90 612.51 176.62 612.82 176.80 612.62 C176.98 612.42 177.47 611.87 177.80 611.50 C178.13 611.12 178.47 610.75 178.80 610.39 C179.13 610.02 179.47 609.66 179.80 609.30 C180.13 608.95 180.48 608.58 180.80 608.25 C181.12 607.92 181.55 607.48 181.72 607.31 C181.88 607.14 181.62 607.41 181.80 607.23 C181.98 607.05 182.47 606.57 182.80 606.26 C183.13 605.94 183.47 605.63 183.80 605.33 C184.13 605.03 184.47 604.74 184.80 604.45 C185.13 604.17 185.48 603.88 185.80 603.62 C186.12 603.36 186.53 603.04 186.70 602.90 C186.87 602.77 186.62 602.96 186.80 602.83 C186.98 602.69 187.47 602.32 187.80 602.08 C188.13 601.84 188.47 601.60 188.80 601.37 C189.13 601.14 189.47 600.92 189.80 600.70 C190.13 600.48 190.49 600.26 190.80 600.07 C191.11 599.87 191.52 599.64 191.68 599.54 C191.85 599.44 191.61 599.57 191.80 599.47 C191.99 599.36 192.47 599.09 192.80 598.90 C193.13 598.72 193.47 598.54 193.80 598.37 C194.13 598.20 194.47 598.03 194.80 597.87 C195.13 597.71 195.49 597.54 195.80 597.40 C196.11 597.25 196.50 597.08 196.67 597.01 C196.83 596.94 196.61 597.03 196.80 596.95 C196.99 596.87 197.47 596.67 197.80 596.53 C198.13 596.39 198.47 596.26 198.80 596.13 C199.13 596.01 199.47 595.88 199.80 595.76 C200.13 595.64 200.49 595.51 200.80 595.41 C201.11 595.30 201.48 595.18 201.65 595.12 C201.82 595.06 201.61 595.13 201.80 595.07 C201.99 595.01 202.47 594.86 202.80 594.76 C203.13 594.65 203.47 594.55 203.80 594.46 C204.13 594.36 204.47 594.27 204.80 594.18 C205.13 594.08 205.49 593.99 205.80 593.91 C206.11 593.83 206.47 593.74 206.63 593.70 C206.80 593.65 206.61 593.70 206.80 593.65 C206.99 593.61 207.47 593.49 207.80 593.41 C208.13 593.33 208.47 593.26 208.80 593.18 C209.13 593.11 209.47 593.03 209.80 592.96 C210.13 592.89 210.50 592.81 210.80 592.75 C211.10 592.68 211.45 592.61 211.62 592.58 C211.78 592.55 211.60 592.58 211.80 592.54 C212.00 592.50 212.47 592.41 212.80 592.34 C213.13 592.28 213.47 592.21 213.80 592.15 C214.13 592.08 214.47 592.02 214.80 591.96 C215.13 591.89 215.50 591.82 215.80 591.77 C216.10 591.71 216.43 591.65 216.60 591.62 C216.77 591.59 216.60 591.62 216.80 591.58 C217.00 591.54 217.47 591.45 217.80 591.39 C218.13 591.33 218.47 591.26 218.80 591.20 C219.13 591.14 219.34 591.10 219.80 591.01 C220.26 590.92 220.46 590.90 221.58 590.65 C222.71 590.41 224.91 589.94 226.57 589.53 C228.23 589.12 229.89 588.66 231.55 588.18 C233.21 587.71 234.87 587.19 236.53 586.68 C238.19 586.17 239.86 585.62 241.52 585.10 C243.18 584.57 244.84 584.03 246.50 583.52 C248.16 583.01 249.82 582.50 251.48 582.04 C253.14 581.57 254.81 581.11 256.47 580.72 C258.13 580.32 259.79 579.95 261.45 579.64 C263.11 579.33 264.77 579.06 266.43 578.83 C268.09 578.60 269.76 578.41 271.42 578.25 C273.08 578.09 274.74 577.97 276.40 577.88 C278.06 577.79 279.72 577.73 281.38 577.68 C283.04 577.64 284.71 577.63 286.37 577.64 C288.03 577.64 289.69 577.67 291.35 577.70 C293.01 577.74 294.67 577.80 296.33 577.86 C297.99 577.92 299.66 577.99 301.32 578.07 C302.98 578.15 304.64 578.23 306.30 578.32 C307.96 578.41 309.62 578.51 311.28 578.61 C312.94 578.71 314.61 578.81 316.27 578.92 C317.93 579.03 319.59 579.14 321.25 579.26 C322.91 579.37 324.57 579.49 326.23 579.61 C327.89 579.73 329.56 579.85 331.22 579.97 C332.88 580.09 334.54 580.22 336.20 580.34 C337.86 580.46 339.52 580.58 341.18 580.70 C342.84 580.82 344.51 580.94 346.17 581.06 C347.83 581.17 349.49 581.29 351.15 581.39 C352.81 581.50 354.47 581.61 356.13 581.71 C357.79 581.82 359.46 581.91 361.12 582.01 C362.78 582.10 364.44 582.19 366.10 582.27 C367.76 582.35 369.42 582.42 371.08 582.49 C372.74 582.55 374.41 582.61 376.07 582.66 C377.73 582.71 379.39 582.75 381.05 582.79 C382.71 582.82 384.37 582.84 386.03 582.85 C387.69 582.87 389.36 582.87 391.02 582.86 C392.68 582.86 394.34 582.84 396.00 582.81 C397.66 582.79 399.32 582.75 400.98 582.71 C402.64 582.67 404.31 582.62 405.97 582.56 C407.63 582.50 409.29 582.44 410.95 582.36 C412.61 582.29 414.27 582.21 415.93 582.13 C417.59 582.04 419.26 581.95 420.92 581.85 C422.58 581.75 424.24 581.65 425.90 581.54 C427.56 581.43 429.22 581.32 430.88 581.20 C432.54 581.08 434.21 580.96 435.87 580.83 C437.53 580.71 439.19 580.58 440.85 580.44 C442.51 580.31 444.17 580.17 445.83 580.03 C447.49 579.90 449.16 579.75 450.82 579.61 C452.48 579.47 454.14 579.32 455.80 579.18 C457.46 579.03 459.12 578.88 460.78 578.73 C462.44 578.58 464.11 578.44 465.77 578.29 C467.43 578.14 469.09 577.99 470.75 577.84 C472.41 577.69 474.07 577.54 475.73 577.40 C477.39 577.25 479.06 577.11 480.72 576.96 C482.38 576.82 484.04 576.68 485.70 576.54 C487.36 576.40 489.02 576.26 490.68 576.13 C492.34 576.00 494.01 575.87 495.67 575.74 C497.33 575.61 498.99 575.49 500.65 575.37 C502.31 575.25 503.97 575.14 505.63 575.02 C507.29 574.91 508.96 574.80 510.62 574.70 C512.28 574.59 513.94 574.49 515.60 574.39 C517.26 574.29 518.92 574.19 520.58 574.10 C522.24 574.00 523.91 573.91 525.57 573.83 C527.23 573.74 528.89 573.65 530.55 573.57 C532.21 573.49 533.87 573.41 535.53 573.33 C537.19 573.26 538.86 573.18 540.52 573.11 C542.18 573.04 543.84 572.97 545.50 572.91 C547.16 572.84 548.82 572.78 550.48 572.72 C552.14 572.65 553.81 572.59 555.47 572.54 C557.13 572.48 558.79 572.43 560.45 572.37 C562.11 572.32 563.77 572.27 565.43 572.22 C567.09 572.17 568.76 572.13 570.42 572.08 C572.08 572.04 573.74 571.99 575.40 571.95 C577.06 571.91 578.72 571.87 580.38 571.84 C582.04 571.80 583.71 571.76 585.37 571.73 C587.03 571.69 588.69 571.66 590.35 571.63 C592.01 571.60 593.67 571.57 595.33 571.54 C596.99 571.51 598.66 571.48 600.32 571.46 C601.98 571.43 603.64 571.41 605.30 571.38 C606.96 571.36 608.62 571.33 610.28 571.31 C611.94 571.29 613.61 571.27 615.27 571.25 C616.93 571.23 618.59 571.21 620.25 571.19 C621.91 571.17 623.57 571.16 625.23 571.14 C626.89 571.12 628.56 571.11 630.22 571.09 C631.88 571.07 633.54 571.06 635.20 571.04 C636.86 571.03 638.52 571.01 640.18 571.00 C641.84 570.98 643.51 570.97 645.17 570.96 C646.83 570.94 648.49 570.93 650.15 570.92 C651.81 570.90 653.47 570.89 655.13 570.88 C656.79 570.86 658.46 570.85 660.12 570.83 C661.78 570.82 663.44 570.81 665.10 570.79 C666.76 570.78 668.42 570.76 670.08 570.75 C671.74 570.73 673.41 570.72 675.07 570.70 C676.73 570.69 678.39 570.67 680.05 570.65 C681.71 570.64 683.37 570.62 685.03 570.60 C686.69 570.58 688.36 570.56 690.02 570.54 C691.68 570.53 693.34 570.50 695.00 570.48 C696.66 570.46 698.32 570.44 699.98 570.42 C701.64 570.39 703.31 570.37 704.97 570.34 C706.63 570.32 708.29 570.29 709.95 570.26 C711.61 570.23 713.27 570.20 714.93 570.17 C716.59 570.14 718.26 570.11 719.92 570.07 C721.58 570.04 724.07 569.99 724.90 569.97"/>
<path class="c b d" d="M157.50 675.22 C158.34 674.34 160.85 671.54 162.52 669.95 C164.19 668.37 165.87 666.97 167.54 665.70 C169.22 664.43 170.89 663.33 172.56 662.33 C174.24 661.33 175.91 660.48 177.58 659.71 C179.26 658.94 180.93 658.30 182.61 657.71 C184.28 657.13 185.95 656.64 187.63 656.20 C189.30 655.75 190.97 655.39 192.65 655.04 C194.32 654.69 196.00 654.40 197.67 654.12 C199.34 653.84 201.02 653.59 202.69 653.35 C204.36 653.11 206.04 652.89 207.71 652.67 C209.39 652.44 211.06 652.22 212.73 651.98 C214.41 651.74 216.08 651.50 217.75 651.22 C219.43 650.95 221.10 650.66 222.78 650.32 C224.45 649.98 226.12 649.61 227.80 649.18 C229.47 648.75 231.14 648.27 232.82 647.75 C234.49 647.22 236.17 646.64 237.84 646.03 C239.51 645.42 241.19 644.76 242.86 644.08 C244.53 643.41 246.21 642.69 247.88 641.97 C249.56 641.25 251.23 640.50 252.90 639.75 C254.58 639.00 256.25 638.23 257.92 637.48 C259.60 636.72 261.27 635.96 262.95 635.22 C264.62 634.47 266.29 633.73 267.97 633.02 C269.64 632.31 271.31 631.62 272.99 630.96 C274.66 630.30 276.34 629.67 278.01 629.08 C279.68 628.48 281.36 627.92 283.03 627.38 C284.70 626.84 286.38 626.34 288.05 625.85 C289.73 625.36 291.40 624.89 293.07 624.44 C294.75 623.99 296.42 623.56 298.09 623.14 C299.77 622.72 301.44 622.32 303.12 621.92 C304.79 621.52 306.46 621.13 308.14 620.74 C309.81 620.35 311.48 619.97 313.16 619.58 C314.83 619.19 316.51 618.80 318.18 618.41 C319.85 618.02 321.53 617.63 323.20 617.23 C324.87 616.83 326.55 616.43 328.22 616.03 C329.90 615.63 331.57 615.23 333.24 614.83 C334.92 614.42 336.59 614.01 338.26 613.61 C339.94 613.20 341.61 612.79 343.29 612.38 C344.96 611.97 346.63 611.56 348.31 611.15 C349.98 610.73 351.65 610.32 353.33 609.91 C355.00 609.50 356.68 609.08 358.35 608.67 C360.02 608.25 361.70 607.84 363.37 607.43 C365.04 607.01 366.72 606.60 368.39 606.19 C370.07 605.77 371.74 605.36 373.41 604.95 C375.09 604.54 376.76 604.13 378.43 603.72 C380.11 603.31 381.78 602.90 383.46 602.49 C385.13 602.09 386.80 601.68 388.48 601.28 C390.15 600.87 391.82 600.47 393.50 600.07 C395.17 599.67 396.85 599.27 398.52 598.88 C400.19 598.48 401.87 598.09 403.54 597.70 C405.21 597.31 406.89 596.92 408.56 596.54 C410.24 596.16 411.91 595.77 413.58 595.40 C415.26 595.02 416.93 594.64 418.60 594.27 C420.28 593.90 421.95 593.54 423.63 593.17 C425.30 592.81 426.97 592.45 428.65 592.10 C430.32 591.74 431.99 591.39 433.67 591.05 C435.34 590.70 437.02 590.36 438.69 590.02 C440.36 589.69 442.04 589.36 443.71 589.03 C445.38 588.70 447.06 588.38 448.73 588.07 C450.41 587.75 452.08 587.44 453.75 587.14 C455.43 586.84 457.10 586.54 458.77 586.25 C460.45 585.96 462.12 585.67 463.80 585.39 C465.47 585.11 467.14 584.84 468.82 584.57 C470.49 584.30 472.16 584.04 473.84 583.78 C475.51 583.52 477.19 583.27 478.86 583.03 C480.53 582.78 482.21 582.54 483.88 582.30 C485.55 582.07 487.23 581.84 488.90 581.61 C490.58 581.39 492.25 581.17 493.92 580.95 C495.60 580.74 497.27 580.53 498.94 580.32 C500.62 580.12 502.29 579.92 503.97 579.72 C505.64 579.53 507.31 579.34 508.99 579.15 C510.66 578.96 512.33 578.78 514.01 578.60 C515.68 578.43 517.36 578.25 519.03 578.09 C520.70 577.92 522.38 577.75 524.05 577.60 C525.72 577.44 527.40 577.28 529.07 577.13 C530.75 576.98 532.42 576.83 534.09 576.69 C535.77 576.54 537.44 576.41 539.11 576.27 C540.79 576.13 542.46 576.00 544.14 575.88 C545.81 575.75 547.48 575.62 549.16 575.50 C550.83 575.38 552.50 575.27 554.18 575.15 C555.85 575.04 557.53 574.93 559.20 574.82 C560.87 574.72 562.55 574.61 564.22 574.51 C565.89 574.41 567.57 574.32 569.24 574.22 C570.92 574.13 572.59 574.04 574.26 573.95 C575.94 573.86 577.61 573.78 579.28 573.70 C580.96 573.61 582.63 573.54 584.31 573.46 C585.98 573.38 587.65 573.31 589.33 573.24 C591.00 573.17 592.67 573.10 594.35 573.03 C596.02 572.97 597.70 572.90 599.37 572.84 C601.04 572.78 602.72 572.72 604.39 572.66 C606.06 572.61 607.74 572.55 609.41 572.50 C611.09 572.45 612.76 572.40 614.43 572.35 C616.11 572.30 617.78 572.25 619.45 572.21 C621.13 572.16 622.80 572.12 624.48 572.08 C626.15 572.04 627.82 572.00 629.50 571.96 C631.17 571.92 632.84 571.88 634.52 571.85 C636.19 571.81 637.87 571.78 639.54 571.75 C641.21 571.71 642.89 571.68 644.56 571.65 C646.23 571.62 647.91 571.59 649.58 571.56 C651.26 571.54 652.93 571.51 654.60 571.48 C656.28 571.46 657.95 571.43 659.62 571.41 C661.30 571.38 662.97 571.36 664.65 571.34 C666.32 571.31 667.99 571.29 669.67 571.27 C671.34 571.25 673.01 571.22 674.69 571.20 C676.36 571.18 678.04 571.16 679.71 571.14 C681.38 571.12 683.06 571.10 684.73 571.08 C686.40 571.06 688.08 571.04 689.75 571.02 C691.43 571.00 693.10 570.98 694.77 570.96 C696.45 570.94 698.12 570.92 699.79 570.90 C701.47 570.88 703.14 570.86 704.82 570.84 C706.49 570.82 708.16 570.80 709.84 570.77 C711.51 570.75 713.18 570.73 714.86 570.71 C716.53 570.68 718.21 570.66 719.88 570.64 C721.55 570.61 724.06 570.57 724.90 570.56"/>
</g>
<path class="tk" d="M231.98 398.20v6.30M231.98 740.30v-6.30M330.57 398.20v12.60M330.57 740.30v-12.60M429.15 398.20v6.30M429.15 740.30v-6.30M527.73 398.20v12.60M527.73 740.30v-12.60M626.32 398.20v6.30M626.32 740.30v-6.30M133.40 483.72h12.60M724.90 483.72h-12.60M133.40 569.25h12.60M724.90 569.25h-12.60M133.40 654.77h12.60M724.90 654.77h-12.60M133.40 440.96h6.30M724.90 440.96h-6.30M133.40 526.49h6.30M724.90 526.49h-6.30M133.40 612.01h6.30M724.90 612.01h-6.30M133.40 697.54h6.30M724.90 697.54h-6.30"/>
<rect class="fr" x="133.40" y="398.20" width="591.50" height="342.10"/>
<text class="t" x="113.1" y="409.80" text-anchor="end">2</text>
<text class="t" x="113.1" y="495.32" text-anchor="end">1</text>
<text class="t" x="113.1" y="580.85" text-anchor="end">0</text>
<text class="t" x="113.1" y="666.38" text-anchor="end">-1</text>
<text class="t" x="113.1" y="751.90" text-anchor="end">-2</text>
<path class="c r" d="M407.4 447.5H465.5"/>
<path class="c r d" d="M407.4 493.4H463.2"/>
<path class="c b" d="M407.4 649.8H465.5"/>
<path class="c b d" d="M407.4 699.4H463.2"/>
<text x="486.60" y="461.30" class="t" text-anchor="start"><tspan class="w">Neutrons,</tspan><tspan class="s" dy="-16.2">124</tspan><tspan dy="16.2" class="sn">Sn</tspan></text>
<text x="486.60" y="507.50" class="t" text-anchor="start"><tspan class="w">Neutrons,</tspan><tspan class="s" dy="-16.2">132</tspan><tspan dy="16.2" class="sn">Sn</tspan></text>
<text x="486.60" y="664.40" class="t" text-anchor="start"><tspan class="w">Protons,</tspan><tspan class="s" dy="-16.2">124</tspan><tspan dy="16.2" class="sn">Sn</tspan></text>
<text x="486.60" y="713.90" class="t" text-anchor="start"><tspan class="w">Protons,</tspan><tspan class="s" dy="-16.2">132</tspan><tspan dy="16.2" class="sn">Sn</tspan></text>
<text class="t" style="font-size:33.6px" x="153.0" y="725.8">(b)</text>
<text class="l" style="font-size:39.8px" transform="translate(38.5 570.2) rotate(-90)" text-anchor="middle">N<tspan style="font-size:31px" dy="11.2">trans</tspan></text>
<path d="M133.40 846.8H724.90" stroke="#909090" stroke-width="1.85" stroke-dasharray="13.7 7.05" fill="none"/>
<path d="M133.40 922.85H724.90" stroke="#858585" stroke-width="1.85" fill="none"/>
<g clip-path="url(#cc)">
<path class="c r" stroke-dasharray="8.5 6.6 13.9 7 13.3 7.1 27.8 6.5 13.9 7 13.9 7 13.9 7 13.9 7 27.8 7 13.9 7 13.9 7 13.9 7 13.9 7 13.9 7 13.9 7 13.9 7 13.9 7 13.9 7 13.9 7 13.9 7 13.9 7 13.9 7 13.9 7 13.9 7 13.9 7 13.9 7 13.9 7 13.9 7 13.9 7 13.9 7 13.9 7 13.9 7 13.9 7 13.9 7 13.9 7 13.9 7 13.9 7 13.9 7 13.9 7 13.9 7 13.9 7 13.9 7 13.9 7 13.9 7 13.9 7 13.9 7 13.9 7 13.9 7 13.9 7 13.9 7 13.9 7 13.9 7 13.9 7 13.9 7 13.9 7 13.9 7 13.9 7 13.9 7 13.9 7 13.9 7 13.9 7 13.9 7 13.9 7 13.9 7 13.9 7 13.9 7 13.9 7 13.9 7 13.9 7" d="M156.90 882.11 C157.73 882.28 160.22 882.79 161.88 883.13 C163.54 883.47 165.20 883.82 166.86 884.17 C168.53 884.53 170.19 884.88 171.85 885.25 C173.51 885.61 175.17 885.97 176.83 886.34 C178.49 886.71 180.15 887.09 181.81 887.47 C183.47 887.84 185.13 888.23 186.79 888.61 C188.46 889.00 190.12 889.39 191.78 889.78 C193.44 890.17 195.10 890.57 196.76 890.96 C198.42 891.36 200.08 891.77 201.74 892.17 C203.40 892.58 205.06 892.98 206.72 893.39 C208.39 893.80 210.05 894.22 211.71 894.63 C213.37 895.05 215.03 895.47 216.69 895.89 C218.35 896.31 220.01 896.73 221.67 897.15 C223.33 897.58 224.99 898.00 226.65 898.43 C228.32 898.86 229.98 899.29 231.64 899.72 C233.30 900.15 234.96 900.58 236.62 901.01 C238.28 901.45 239.94 901.88 241.60 902.32 C243.26 902.75 244.92 903.19 246.58 903.63 C248.25 904.06 249.91 904.50 251.57 904.94 C253.23 905.38 254.89 905.82 256.55 906.26 C258.21 906.70 259.87 907.14 261.53 907.58 C263.19 908.01 264.85 908.45 266.51 908.89 C268.17 909.33 269.84 909.77 271.50 910.21 C273.16 910.65 274.82 911.09 276.48 911.52 C278.14 911.96 279.80 912.40 281.46 912.83 C283.12 913.27 284.78 913.70 286.44 914.14 C288.10 914.57 289.77 915.00 291.43 915.43 C293.09 915.86 294.75 916.29 296.41 916.72 C298.07 917.15 299.73 917.57 301.39 918.00 C303.05 918.42 304.71 918.84 306.37 919.26 C308.03 919.68 309.70 920.10 311.36 920.52 C313.02 920.93 314.68 921.35 316.34 921.76 C318.00 922.17 319.66 922.57 321.32 922.98 C322.98 923.39 324.64 923.79 326.30 924.19 C327.96 924.59 329.63 924.99 331.29 925.38 C332.95 925.78 334.61 926.17 336.27 926.56 C337.93 926.95 339.59 927.34 341.25 927.72 C342.91 928.10 344.57 928.48 346.23 928.86 C347.89 929.24 349.55 929.62 351.22 929.99 C352.88 930.36 354.54 930.73 356.20 931.10 C357.86 931.46 359.52 931.83 361.18 932.19 C362.84 932.55 364.50 932.90 366.16 933.26 C367.82 933.61 369.48 933.96 371.15 934.31 C372.81 934.65 374.47 935.00 376.13 935.34 C377.79 935.68 379.45 936.01 381.11 936.35 C382.77 936.68 384.43 937.01 386.09 937.34 C387.75 937.66 389.41 937.99 391.08 938.31 C392.74 938.62 394.40 938.94 396.06 939.25 C397.72 939.56 399.38 939.87 401.04 940.18 C402.70 940.48 404.36 940.78 406.02 941.08 C407.68 941.37 409.34 941.67 411.01 941.96 C412.67 942.24 414.33 942.53 415.99 942.81 C417.65 943.09 419.31 943.37 420.97 943.64 C422.63 943.91 424.29 944.18 425.95 944.45 C427.61 944.71 429.27 944.97 430.94 945.23 C432.60 945.48 434.26 945.73 435.92 945.98 C437.58 946.23 439.24 946.47 440.90 946.71 C442.56 946.95 444.22 947.19 445.88 947.42 C447.54 947.65 449.20 947.88 450.86 948.10 C452.53 948.32 454.19 948.54 455.85 948.76 C457.51 948.97 459.17 949.18 460.83 949.39 C462.49 949.60 464.15 949.80 465.81 950.00 C467.47 950.20 469.13 950.40 470.79 950.59 C472.46 950.78 474.12 950.97 475.78 951.16 C477.44 951.34 479.10 951.53 480.76 951.70 C482.42 951.88 484.08 952.06 485.74 952.23 C487.40 952.40 489.06 952.57 490.72 952.73 C492.39 952.89 494.05 953.06 495.71 953.21 C497.37 953.37 499.03 953.52 500.69 953.68 C502.35 953.83 504.01 953.97 505.67 954.12 C507.33 954.26 508.99 954.40 510.65 954.54 C512.32 954.68 513.98 954.81 515.64 954.95 C517.30 955.08 518.96 955.21 520.62 955.33 C522.28 955.46 523.94 955.58 525.60 955.70 C527.26 955.82 528.92 955.94 530.58 956.05 C532.25 956.17 533.91 956.28 535.57 956.39 C537.23 956.49 538.89 956.60 540.55 956.70 C542.21 956.80 543.87 956.90 545.53 957.00 C547.19 957.10 548.85 957.19 550.51 957.29 C552.17 957.38 553.84 957.47 555.50 957.56 C557.16 957.64 558.82 957.73 560.48 957.81 C562.14 957.89 563.80 957.97 565.46 958.05 C567.12 958.13 568.78 958.20 570.44 958.27 C572.10 958.35 573.77 958.42 575.43 958.48 C577.09 958.55 578.75 958.62 580.41 958.68 C582.07 958.75 583.73 958.81 585.39 958.87 C587.05 958.93 588.71 958.98 590.37 959.04 C592.03 959.09 593.70 959.15 595.36 959.20 C597.02 959.25 598.68 959.30 600.34 959.34 C602.00 959.39 603.66 959.44 605.32 959.48 C606.98 959.52 608.64 959.57 610.30 959.61 C611.96 959.65 613.63 959.68 615.29 959.72 C616.95 959.76 618.61 959.79 620.27 959.82 C621.93 959.86 623.59 959.89 625.25 959.92 C626.91 959.95 628.57 959.98 630.23 960.00 C631.89 960.03 633.55 960.06 635.22 960.08 C636.88 960.10 638.54 960.13 640.20 960.15 C641.86 960.17 643.52 960.19 645.18 960.21 C646.84 960.23 648.50 960.24 650.16 960.26 C651.82 960.28 653.48 960.29 655.15 960.30 C656.81 960.32 658.47 960.33 660.13 960.34 C661.79 960.35 663.45 960.36 665.11 960.37 C666.77 960.38 668.43 960.39 670.09 960.40 C671.75 960.40 673.41 960.41 675.08 960.42 C676.74 960.42 678.40 960.43 680.06 960.43 C681.72 960.43 683.38 960.44 685.04 960.44 C686.70 960.44 688.36 960.44 690.02 960.44 C691.68 960.45 693.34 960.45 695.01 960.44 C696.67 960.44 698.33 960.44 699.99 960.44 C701.65 960.44 703.31 960.44 704.97 960.44 C706.63 960.43 708.29 960.43 709.95 960.43 C711.61 960.42 713.27 960.42 714.94 960.42 C716.60 960.41 718.26 960.41 719.92 960.40 C721.58 960.40 724.07 960.39 724.90 960.39"/>
<path class="c r" d="M157.00 934.60 C157.83 934.66 160.32 934.85 161.98 934.97 C163.64 935.09 165.30 935.21 166.96 935.34 C168.62 935.46 170.28 935.58 171.94 935.69 C173.61 935.81 175.27 935.93 176.93 936.05 C178.59 936.16 180.25 936.28 181.91 936.40 C183.57 936.51 185.23 936.62 186.89 936.74 C188.55 936.85 190.21 936.96 191.87 937.08 C193.53 937.19 195.19 937.30 196.85 937.41 C198.51 937.52 200.17 937.63 201.83 937.74 C203.49 937.85 205.16 937.96 206.82 938.07 C208.48 938.17 210.14 938.28 211.80 938.39 C213.46 938.50 215.12 938.60 216.78 938.71 C218.44 938.81 220.10 938.92 221.76 939.03 C223.42 939.13 225.08 939.24 226.74 939.34 C228.40 939.44 230.06 939.55 231.72 939.65 C233.38 939.76 235.04 939.86 236.71 939.96 C238.37 940.07 240.03 940.17 241.69 940.27 C243.35 940.38 245.01 940.48 246.67 940.58 C248.33 940.68 249.99 940.79 251.65 940.89 C253.31 940.99 254.97 941.09 256.63 941.20 C258.29 941.30 259.95 941.40 261.61 941.50 C263.27 941.61 264.93 941.71 266.59 941.81 C268.26 941.91 269.92 942.02 271.58 942.12 C273.24 942.22 274.90 942.33 276.56 942.43 C278.22 942.53 279.88 942.64 281.54 942.74 C283.20 942.84 284.86 942.95 286.52 943.05 C288.18 943.15 289.84 943.26 291.50 943.36 C293.16 943.47 294.82 943.57 296.48 943.68 C298.14 943.79 299.81 943.89 301.47 944.00 C303.13 944.11 304.79 944.21 306.45 944.32 C308.11 944.43 309.77 944.54 311.43 944.64 C313.09 944.75 314.75 944.86 316.41 944.97 C318.07 945.08 319.73 945.19 321.39 945.30 C323.05 945.42 324.71 945.53 326.37 945.64 C328.03 945.75 329.69 945.86 331.36 945.98 C333.02 946.09 334.68 946.20 336.34 946.31 C338.00 946.43 339.66 946.54 341.32 946.66 C342.98 946.77 344.64 946.89 346.30 947.00 C347.96 947.11 349.62 947.23 351.28 947.35 C352.94 947.46 354.60 947.58 356.26 947.69 C357.92 947.81 359.58 947.92 361.24 948.04 C362.91 948.16 364.57 948.27 366.23 948.39 C367.89 948.50 369.55 948.62 371.21 948.74 C372.87 948.85 374.53 948.97 376.19 949.09 C377.85 949.20 379.51 949.32 381.17 949.44 C382.83 949.55 384.49 949.67 386.15 949.79 C387.81 949.90 389.47 950.02 391.13 950.14 C392.79 950.25 394.46 950.37 396.12 950.48 C397.78 950.60 399.44 950.72 401.10 950.83 C402.76 950.95 404.42 951.06 406.08 951.18 C407.74 951.29 409.40 951.41 411.06 951.52 C412.72 951.64 414.38 951.75 416.04 951.86 C417.70 951.98 419.36 952.09 421.02 952.21 C422.68 952.32 424.34 952.43 426.01 952.54 C427.67 952.66 429.33 952.77 430.99 952.88 C432.65 952.99 434.31 953.10 435.97 953.21 C437.63 953.33 439.29 953.44 440.95 953.55 C442.61 953.65 444.27 953.76 445.93 953.87 C447.59 953.98 449.25 954.09 450.91 954.20 C452.57 954.30 454.23 954.41 455.89 954.52 C457.56 954.62 459.22 954.73 460.88 954.83 C462.54 954.93 464.20 955.04 465.86 955.14 C467.52 955.24 469.18 955.34 470.84 955.45 C472.50 955.55 474.16 955.65 475.82 955.75 C477.48 955.85 479.14 955.94 480.80 956.04 C482.46 956.14 484.12 956.23 485.78 956.33 C487.44 956.42 489.11 956.52 490.77 956.61 C492.43 956.71 494.09 956.80 495.75 956.89 C497.41 956.98 499.07 957.07 500.73 957.16 C502.39 957.25 504.05 957.33 505.71 957.42 C507.37 957.51 509.03 957.59 510.69 957.67 C512.35 957.76 514.01 957.84 515.67 957.92 C517.33 958.00 518.99 958.08 520.66 958.16 C522.32 958.24 523.98 958.32 525.64 958.39 C527.30 958.47 528.96 958.54 530.62 958.61 C532.28 958.68 533.94 958.76 535.60 958.83 C537.26 958.89 538.92 958.96 540.58 959.03 C542.24 959.09 543.90 959.16 545.56 959.22 C547.22 959.29 548.88 959.35 550.54 959.41 C552.21 959.47 553.87 959.52 555.53 959.58 C557.19 959.64 558.85 959.69 560.51 959.74 C562.17 959.80 563.83 959.85 565.49 959.90 C567.15 959.95 568.81 960.00 570.47 960.04 C572.13 960.09 573.79 960.13 575.45 960.18 C577.11 960.22 578.77 960.26 580.43 960.30 C582.09 960.34 583.76 960.38 585.42 960.42 C587.08 960.46 588.74 960.49 590.40 960.53 C592.06 960.56 593.72 960.59 595.38 960.63 C597.04 960.66 598.70 960.69 600.36 960.72 C602.02 960.74 603.68 960.77 605.34 960.80 C607.00 960.82 608.66 960.85 610.32 960.87 C611.98 960.89 613.64 960.92 615.31 960.94 C616.97 960.96 618.63 960.98 620.29 961.00 C621.95 961.01 623.61 961.03 625.27 961.05 C626.93 961.06 628.59 961.08 630.25 961.09 C631.91 961.10 633.57 961.11 635.23 961.13 C636.89 961.14 638.55 961.15 640.21 961.15 C641.87 961.16 643.53 961.17 645.19 961.18 C646.86 961.18 648.52 961.19 650.18 961.19 C651.84 961.20 653.50 961.20 655.16 961.20 C656.82 961.20 658.48 961.20 660.14 961.20 C661.80 961.20 663.46 961.20 665.12 961.20 C666.78 961.20 668.44 961.20 670.10 961.19 C671.76 961.19 673.42 961.18 675.08 961.18 C676.74 961.17 678.41 961.16 680.07 961.16 C681.73 961.15 683.39 961.14 685.05 961.13 C686.71 961.12 688.37 961.11 690.03 961.10 C691.69 961.09 693.35 961.08 695.01 961.07 C696.67 961.05 698.33 961.04 699.99 961.03 C701.65 961.01 703.31 961.00 704.97 960.98 C706.63 960.97 708.29 960.95 709.96 960.93 C711.62 960.92 713.28 960.90 714.94 960.88 C716.60 960.86 718.26 960.84 719.92 960.82 C721.58 960.80 724.07 960.77 724.90 960.76"/>
<path class="c b" d="M157.00 914.21 C157.83 914.16 160.32 914.02 161.98 913.92 C163.64 913.83 165.30 913.73 166.96 913.64 C168.62 913.54 170.28 913.44 171.94 913.35 C173.61 913.25 175.27 913.16 176.93 913.06 C178.59 912.97 180.25 912.87 181.91 912.77 C183.57 912.68 185.23 912.58 186.89 912.48 C188.55 912.39 190.21 912.29 191.87 912.20 C193.53 912.10 195.19 912.00 196.85 911.91 C198.51 911.81 200.17 911.71 201.83 911.62 C203.49 911.52 205.16 911.42 206.82 911.33 C208.48 911.23 210.14 911.13 211.80 911.04 C213.46 910.94 215.12 910.84 216.78 910.75 C218.44 910.65 220.10 910.55 221.76 910.46 C223.42 910.36 225.08 910.26 226.74 910.17 C228.40 910.07 230.06 909.98 231.72 909.88 C233.38 909.78 235.04 909.69 236.71 909.59 C238.37 909.49 240.03 909.40 241.69 909.30 C243.35 909.20 245.01 909.11 246.67 909.01 C248.33 908.92 249.99 908.82 251.65 908.72 C253.31 908.63 254.97 908.53 256.63 908.44 C258.29 908.34 259.95 908.24 261.61 908.15 C263.27 908.05 264.93 907.96 266.59 907.86 C268.26 907.77 269.92 907.67 271.58 907.58 C273.24 907.48 274.90 907.38 276.56 907.29 C278.22 907.19 279.88 907.10 281.54 907.01 C283.20 906.91 284.86 906.82 286.52 906.72 C288.18 906.63 289.84 906.53 291.50 906.44 C293.16 906.34 294.82 906.25 296.48 906.16 C298.14 906.06 299.81 905.97 301.47 905.88 C303.13 905.78 304.79 905.69 306.45 905.60 C308.11 905.50 309.77 905.41 311.43 905.32 C313.09 905.23 314.75 905.13 316.41 905.04 C318.07 904.95 319.73 904.86 321.39 904.77 C323.05 904.67 324.71 904.58 326.37 904.49 C328.03 904.40 329.69 904.31 331.36 904.22 C333.02 904.13 334.68 904.04 336.34 903.95 C338.00 903.86 339.66 903.77 341.32 903.68 C342.98 903.59 344.64 903.50 346.30 903.41 C347.96 903.32 349.62 903.23 351.28 903.14 C352.94 903.06 354.60 902.97 356.26 902.88 C357.92 902.79 359.58 902.70 361.24 902.62 C362.91 902.53 364.57 902.44 366.23 902.36 C367.89 902.27 369.55 902.18 371.21 902.10 C372.87 902.01 374.53 901.93 376.19 901.84 C377.85 901.76 379.51 901.67 381.17 901.59 C382.83 901.50 384.49 901.42 386.15 901.33 C387.81 901.25 389.47 901.17 391.13 901.08 C392.79 901.00 394.46 900.92 396.12 900.84 C397.78 900.75 399.44 900.67 401.10 900.59 C402.76 900.51 404.42 900.43 406.08 900.35 C407.74 900.27 409.40 900.19 411.06 900.11 C412.72 900.03 414.38 899.95 416.04 899.87 C417.70 899.79 419.36 899.71 421.02 899.64 C422.68 899.56 424.34 899.48 426.01 899.40 C427.67 899.33 429.33 899.25 430.99 899.17 C432.65 899.10 434.31 899.02 435.97 898.95 C437.63 898.87 439.29 898.80 440.95 898.72 C442.61 898.65 444.27 898.57 445.93 898.50 C447.59 898.43 449.25 898.36 450.91 898.28 C452.57 898.21 454.23 898.14 455.89 898.07 C457.56 898.00 459.22 897.93 460.88 897.86 C462.54 897.79 464.20 897.72 465.86 897.65 C467.52 897.58 469.18 897.51 470.84 897.44 C472.50 897.38 474.16 897.31 475.82 897.24 C477.48 897.18 479.14 897.11 480.80 897.05 C482.46 896.98 484.12 896.91 485.78 896.85 C487.44 896.79 489.11 896.72 490.77 896.66 C492.43 896.60 494.09 896.53 495.75 896.47 C497.41 896.41 499.07 896.35 500.73 896.29 C502.39 896.23 504.05 896.17 505.71 896.11 C507.37 896.05 509.03 895.99 510.69 895.93 C512.35 895.88 514.01 895.82 515.67 895.76 C517.33 895.70 518.99 895.65 520.66 895.59 C522.32 895.54 523.98 895.48 525.64 895.43 C527.30 895.37 528.96 895.32 530.62 895.27 C532.28 895.22 533.94 895.16 535.60 895.11 C537.26 895.06 538.92 895.01 540.58 894.96 C542.24 894.91 543.90 894.86 545.56 894.81 C547.22 894.77 548.88 894.72 550.54 894.67 C552.21 894.62 553.87 894.58 555.53 894.53 C557.19 894.49 558.85 894.44 560.51 894.40 C562.17 894.36 563.83 894.31 565.49 894.27 C567.15 894.23 568.81 894.19 570.47 894.15 C572.13 894.10 573.79 894.06 575.45 894.03 C577.11 893.99 578.77 893.95 580.43 893.91 C582.09 893.87 583.76 893.84 585.42 893.80 C587.08 893.76 588.74 893.73 590.40 893.69 C592.06 893.66 593.72 893.63 595.38 893.59 C597.04 893.56 598.70 893.53 600.36 893.50 C602.02 893.47 603.68 893.44 605.34 893.41 C607.00 893.38 608.66 893.35 610.32 893.32 C611.98 893.30 613.64 893.27 615.31 893.24 C616.97 893.22 618.63 893.19 620.29 893.17 C621.95 893.14 623.61 893.12 625.27 893.10 C626.93 893.08 628.59 893.06 630.25 893.04 C631.91 893.02 633.57 893.00 635.23 892.98 C636.89 892.96 638.55 892.94 640.21 892.92 C641.87 892.91 643.53 892.89 645.19 892.88 C646.86 892.86 648.52 892.85 650.18 892.84 C651.84 892.82 653.50 892.81 655.16 892.80 C656.82 892.79 658.48 892.78 660.14 892.77 C661.80 892.76 663.46 892.75 665.12 892.75 C666.78 892.74 668.44 892.73 670.10 892.73 C671.76 892.72 673.42 892.72 675.08 892.72 C676.74 892.71 678.41 892.71 680.07 892.71 C681.73 892.71 683.39 892.71 685.05 892.71 C686.71 892.71 688.37 892.71 690.03 892.72 C691.69 892.72 693.35 892.73 695.01 892.73 C696.67 892.74 698.33 892.74 699.99 892.75 C701.65 892.76 703.31 892.77 704.97 892.78 C706.63 892.78 708.29 892.80 709.96 892.81 C711.62 892.82 713.28 892.83 714.94 892.85 C716.60 892.86 718.26 892.88 719.92 892.89 C721.58 892.91 724.07 892.93 724.90 892.94"/>
<path class="c b" stroke-dasharray="8.5 6.6 13.9 7 13.3 7.1 27.8 6.5 13.9 7 13.9 7 13.9 7 13.9 7 27.8 7 13.9 7 13.9 7 13.9 7 13.9 7 13.9 7 13.9 7 13.9 7 13.9 7 13.9 7 13.9 7 13.9 7 13.9 7 13.9 7 13.9 7 13.9 7 13.9 7 13.9 7 13.9 7 13.9 7 13.9 7 13.9 7 13.9 7 13.9 7 13.9 7 13.9 7 13.9 7 13.9 7 13.9 7 13.9 7 13.9 7 13.9 7 13.9 7 13.9 7 13.9 7 13.9 7 13.9 7 13.9 7 13.9 7 13.9 7 13.9 7 13.9 7 13.9 7 13.9 7 13.9 7 13.9 7 13.9 7 13.9 7 13.9 7 13.9 7 13.9 7 13.9 7 13.9 7 13.9 7 13.9 7 13.9 7 13.9 7 13.9 7 13.9 7 13.9 7 13.9 7" d="M156.70 819.82 C157.53 819.69 160.02 819.31 161.68 819.04 C163.35 818.78 165.01 818.51 166.67 818.23 C168.33 817.96 169.99 817.68 171.65 817.39 C173.31 817.11 174.98 816.82 176.64 816.52 C178.30 816.23 179.96 815.93 181.62 815.62 C183.28 815.32 184.94 815.01 186.61 814.70 C188.27 814.39 189.93 814.07 191.59 813.75 C193.25 813.43 194.91 813.11 196.57 812.78 C198.24 812.45 199.90 812.12 201.56 811.79 C203.22 811.45 204.88 811.12 206.54 810.77 C208.20 810.43 209.86 810.09 211.53 809.75 C213.19 809.40 214.85 809.05 216.51 808.70 C218.17 808.35 219.83 807.99 221.49 807.64 C223.16 807.28 224.82 806.93 226.48 806.57 C228.14 806.21 229.80 805.84 231.46 805.48 C233.12 805.12 234.79 804.75 236.45 804.39 C238.11 804.02 239.77 803.65 241.43 803.28 C243.09 802.91 244.75 802.54 246.42 802.17 C248.08 801.80 249.74 801.43 251.40 801.06 C253.06 800.69 254.72 800.31 256.38 799.94 C258.05 799.57 259.71 799.19 261.37 798.82 C263.03 798.45 264.69 798.07 266.35 797.70 C268.01 797.33 269.68 796.95 271.34 796.58 C273.00 796.21 274.66 795.83 276.32 795.46 C277.98 795.09 279.64 794.72 281.31 794.35 C282.97 793.98 284.63 793.61 286.29 793.25 C287.95 792.88 289.61 792.51 291.27 792.15 C292.94 791.78 294.60 791.42 296.26 791.06 C297.92 790.70 299.58 790.34 301.24 789.98 C302.90 789.63 304.56 789.27 306.23 788.92 C307.89 788.57 309.55 788.22 311.21 787.87 C312.87 787.52 314.53 787.17 316.19 786.83 C317.86 786.49 319.52 786.15 321.18 785.81 C322.84 785.47 324.50 785.14 326.16 784.80 C327.82 784.47 329.49 784.14 331.15 783.82 C332.81 783.49 334.47 783.16 336.13 782.84 C337.79 782.52 339.45 782.20 341.12 781.89 C342.78 781.57 344.44 781.26 346.10 780.95 C347.76 780.64 349.42 780.33 351.08 780.02 C352.75 779.72 354.41 779.42 356.07 779.12 C357.73 778.82 359.39 778.52 361.05 778.23 C362.71 777.94 364.38 777.65 366.04 777.36 C367.70 777.08 369.36 776.80 371.02 776.52 C372.68 776.24 374.34 775.96 376.01 775.69 C377.67 775.41 379.33 775.14 380.99 774.88 C382.65 774.61 384.31 774.35 385.97 774.09 C387.64 773.83 389.30 773.57 390.96 773.32 C392.62 773.07 394.28 772.82 395.94 772.57 C397.60 772.33 399.26 772.08 400.93 771.85 C402.59 771.61 404.25 771.37 405.91 771.14 C407.57 770.91 409.23 770.68 410.89 770.46 C412.56 770.24 414.22 770.02 415.88 769.80 C417.54 769.58 419.20 769.37 420.86 769.16 C422.52 768.95 424.19 768.75 425.85 768.55 C427.51 768.35 429.17 768.15 430.83 767.95 C432.49 767.76 434.15 767.57 435.82 767.38 C437.48 767.20 439.14 767.01 440.80 766.83 C442.46 766.65 444.12 766.47 445.78 766.30 C447.45 766.13 449.11 765.96 450.77 765.79 C452.43 765.62 454.09 765.46 455.75 765.30 C457.41 765.14 459.08 764.98 460.74 764.83 C462.40 764.67 464.06 764.52 465.72 764.38 C467.38 764.23 469.04 764.08 470.71 763.94 C472.37 763.80 474.03 763.66 475.69 763.52 C477.35 763.39 479.01 763.26 480.67 763.13 C482.34 763.00 484.00 762.87 485.66 762.74 C487.32 762.62 488.98 762.50 490.64 762.38 C492.30 762.26 493.96 762.14 495.63 762.03 C497.29 761.91 498.95 761.80 500.61 761.70 C502.27 761.59 503.93 761.48 505.59 761.38 C507.26 761.27 508.92 761.17 510.58 761.07 C512.24 760.98 513.90 760.88 515.56 760.79 C517.22 760.69 518.89 760.60 520.55 760.51 C522.21 760.42 523.87 760.34 525.53 760.25 C527.19 760.17 528.85 760.08 530.52 760.00 C532.18 759.92 533.84 759.84 535.50 759.77 C537.16 759.69 538.82 759.62 540.48 759.55 C542.15 759.47 543.81 759.40 545.47 759.33 C547.13 759.27 548.79 759.20 550.45 759.14 C552.11 759.07 553.78 759.01 555.44 758.95 C557.10 758.89 558.76 758.83 560.42 758.77 C562.08 758.71 563.74 758.66 565.41 758.60 C567.07 758.55 568.73 758.50 570.39 758.45 C572.05 758.40 573.71 758.35 575.37 758.30 C577.04 758.25 578.70 758.20 580.36 758.16 C582.02 758.11 583.68 758.07 585.34 758.03 C587.00 757.99 588.66 757.95 590.33 757.91 C591.99 757.87 593.65 757.83 595.31 757.79 C596.97 757.76 598.63 757.72 600.29 757.69 C601.96 757.65 603.62 757.62 605.28 757.58 C606.94 757.55 608.60 757.52 610.26 757.49 C611.92 757.46 613.59 757.43 615.25 757.40 C616.91 757.37 618.57 757.35 620.23 757.32 C621.89 757.29 623.55 757.27 625.22 757.24 C626.88 757.22 628.54 757.19 630.20 757.17 C631.86 757.15 633.52 757.12 635.18 757.10 C636.85 757.08 638.51 757.06 640.17 757.04 C641.83 757.02 643.49 756.99 645.15 756.97 C646.81 756.95 648.48 756.94 650.14 756.92 C651.80 756.90 653.46 756.88 655.12 756.86 C656.78 756.84 658.44 756.82 660.11 756.81 C661.77 756.79 663.43 756.77 665.09 756.75 C666.75 756.74 668.41 756.72 670.07 756.70 C671.74 756.69 673.40 756.67 675.06 756.65 C676.72 756.64 678.38 756.62 680.04 756.60 C681.70 756.59 683.36 756.57 685.03 756.56 C686.69 756.54 688.35 756.52 690.01 756.51 C691.67 756.49 693.33 756.47 694.99 756.45 C696.66 756.44 698.32 756.42 699.98 756.40 C701.64 756.38 703.30 756.37 704.96 756.35 C706.62 756.33 708.29 756.31 709.95 756.29 C711.61 756.27 713.27 756.25 714.93 756.23 C716.59 756.21 718.25 756.19 719.92 756.17 C721.58 756.15 724.07 756.12 724.90 756.11"/>
</g>
<path class="tk" d="M231.98 746.90v4.30M231.98 1088.90v-4.30M330.57 746.90v8.60M330.57 1088.90v-8.60M429.15 746.90v4.30M429.15 1088.90v-4.30M527.73 746.90v8.60M527.73 1088.90v-8.60M626.32 746.90v4.30M626.32 1088.90v-4.30M133.40 789.65h8.60M724.90 789.65h-8.60M133.40 875.15h8.60M724.90 875.15h-8.60M133.40 960.65h8.60M724.90 960.65h-8.60M133.40 1046.15h8.60M724.90 1046.15h-8.60M133.40 832.40h4.30M724.90 832.40h-4.30M133.40 917.90h4.30M724.90 917.90h-4.30M133.40 1003.40h4.30M724.90 1003.40h-4.30"/>
<rect class="fr" x="133.40" y="746.90" width="591.50" height="342.00"/>
<text class="t" x="113.1" y="801.05" text-anchor="end">1.6</text>
<text class="t" x="113.1" y="886.55" text-anchor="end">1.5</text>
<text class="t" x="113.1" y="972.05" text-anchor="end">1.4</text>
<text class="t" x="113.1" y="1057.55" text-anchor="end">1.3</text>
<path class="c r" d="M368.8 1008.9H427.5"/>
<path class="c b" d="M368.8 1056H427.5"/>
<path class="c r d" d="M546.7 1008.9H602.9"/>
<path class="c b d" d="M546.7 1056H602.9"/>
<text x="447.60" y="1023.60" class="t" text-anchor="start"><tspan class="s" dy="-16">96</tspan><tspan dy="16">Zr</tspan></text>
<text x="447.60" y="1070.10" class="t" text-anchor="start"><tspan class="s" dy="-16">124</tspan><tspan dy="16" class="sn">Sn</tspan></text>
<text x="625.30" y="1023.60" class="t" text-anchor="start"><tspan class="s" dy="-16">96</tspan><tspan dy="16">Zr</tspan></text>
<text x="625.30" y="1070.10" class="t" text-anchor="start"><tspan class="s" dy="-16">132</tspan><tspan dy="16" class="sn">Sn</tspan></text>
<text class="t" style="font-size:33.6px" x="153.0" y="1074.5">(c)</text>
<text class="l" style="font-size:38.7px;word-spacing:1.2px" transform="translate(34.2 917.6) rotate(-90)" text-anchor="middle">N / Z</text>
<text class="t" style="letter-spacing:-1px" x="137.00" y="1133.6" text-anchor="middle">11</text>
<text class="t" style="letter-spacing:-1px" x="334.17" y="1133.6" text-anchor="middle">12</text>
<text class="t" style="letter-spacing:-1px" x="531.33" y="1133.6" text-anchor="middle">13</text>
<text class="t" style="letter-spacing:-1px" x="728.50" y="1133.6" text-anchor="middle">14</text>
<text class="l" x="428.2" y="1176.6" text-anchor="middle">R [fm]</text>
</svg></body></html>
